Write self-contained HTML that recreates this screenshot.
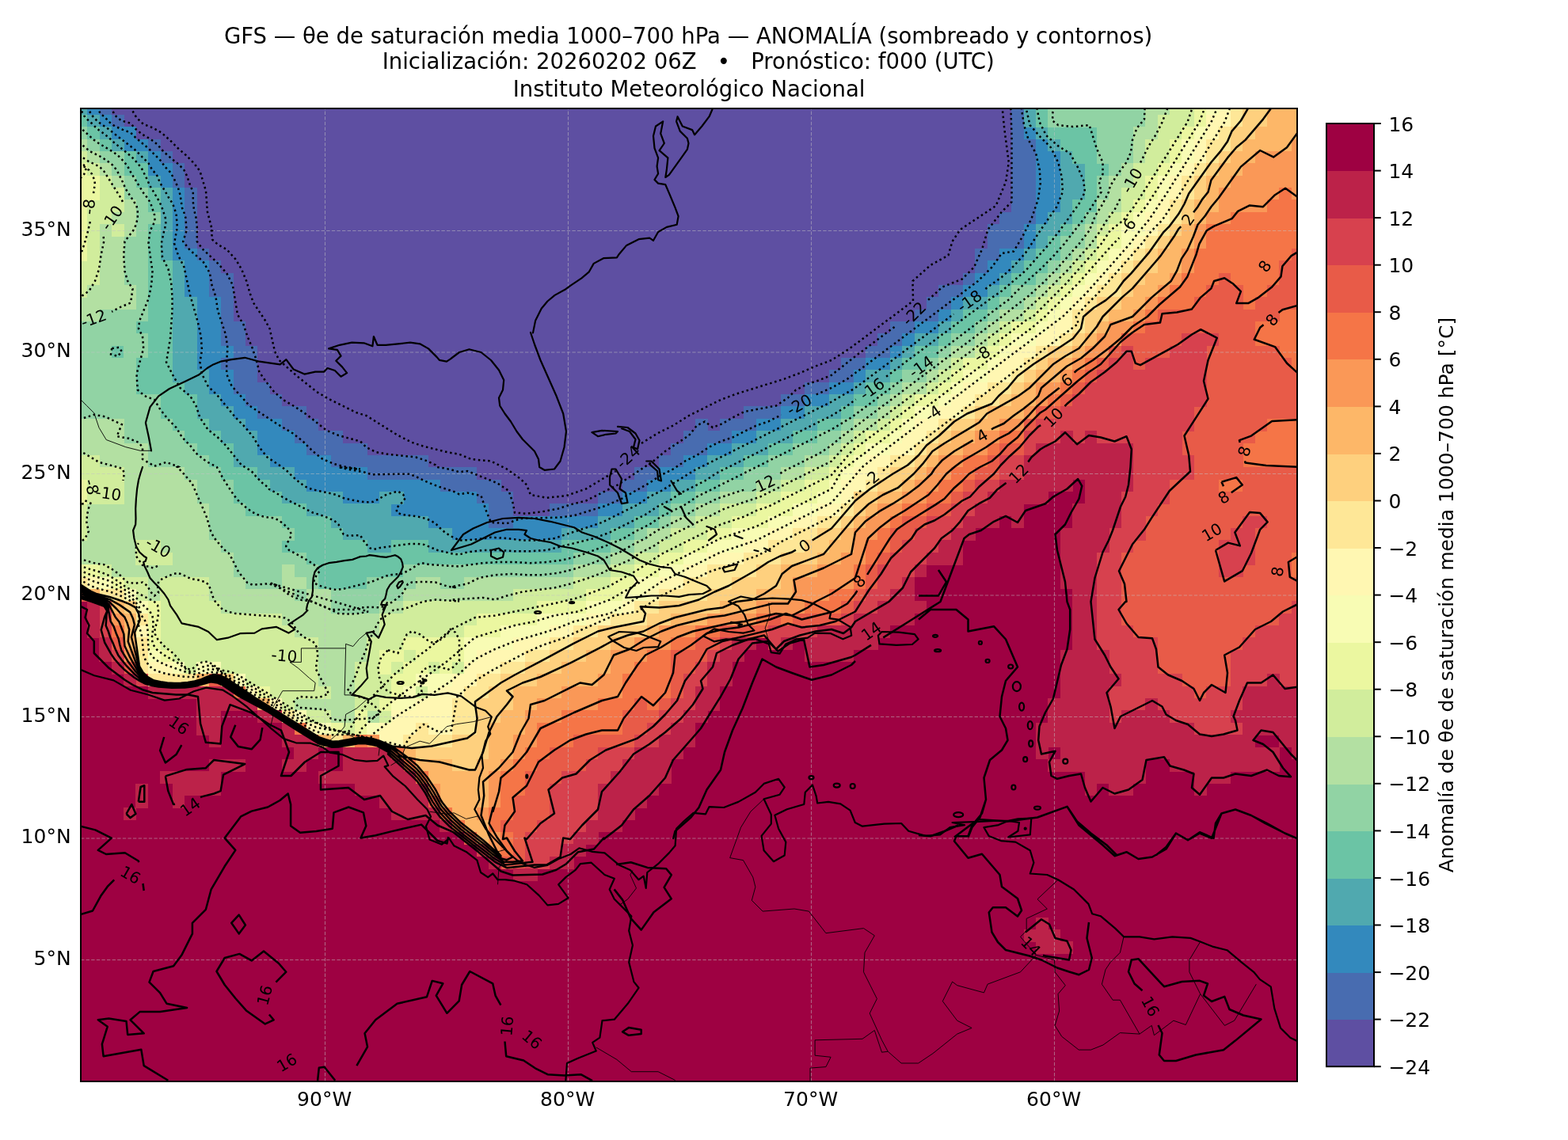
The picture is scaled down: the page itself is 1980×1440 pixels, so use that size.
<!DOCTYPE html>
<html lang="es"><head><meta charset="utf-8">
<title>GFS — θe de saturación media 1000–700 hPa — ANOMALÍA</title>
<style>html,body{margin:0;padding:0;background:#fff;}body{width:1980px;height:1440px;overflow:hidden;}svg{display:block;}text{font-family:'DejaVu Sans', 'Liberation Sans', sans-serif;fill:#000;}</style>
</head><body>
<svg width="1980" height="1440" viewBox="0 0 1980 1440">
<rect x="0" y="0" width="1980" height="1440" fill="#ffffff"/>
<defs><clipPath id="ax"><rect x="102" y="137" width="1536" height="1229"/></clipPath></defs>
<g clip-path="url(#ax)">
<rect x="102" y="137" width="1536" height="1229" fill="#9e0142"/>
<g shape-rendering="crispEdges">
<path fill="#5e4fa2" d="M140.7 137H1277.8V145.2H140.7Z"/>
<path fill="#5e4fa2" d="M156.1 144.8H1277.8V160.6H156.1Z"/>
<path fill="#5e4fa2" d="M171.4 160.2H1277.8V175.9H171.4Z"/>
<path fill="#5e4fa2" d="M202.2 175.5H1277.8V191.3H202.2Z"/>
<path fill="#5e4fa2" d="M217.5 190.9H1277.8V206.6H217.5Z"/>
<path fill="#5e4fa2" d="M232.9 206.2H1277.8V237.4H232.9Z"/>
<path fill="#5e4fa2" d="M248.2 237H1277.8V268.1H248.2Z"/>
<path fill="#5e4fa2" d="M248.2 267.7H1262.4V283.4H248.2Z"/>
<path fill="#5e4fa2" d="M248.2 283H1247V314.2H248.2Z"/>
<path fill="#5e4fa2" d="M263.6 313.8H1231.7V329.5H263.6Z"/>
<path fill="#5e4fa2" d="M279 329.1H1231.7V344.9H279Z"/>
<path fill="#5e4fa2" d="M294.3 344.5H1216.3V360.2H294.3Z"/>
<path fill="#5e4fa2" d="M294.3 359.8H1185.6V375.6H294.3Z"/>
<path fill="#5e4fa2" d="M294.3 375.2H1170.2V391H294.3Z"/>
<path fill="#5e4fa2" d="M294.3 390.6H1154.9V406.3H294.3Z"/>
<path fill="#5e4fa2" d="M309.7 405.9H1124.2V421.7H309.7Z"/>
<path fill="#5e4fa2" d="M309.7 421.3H1108.8V437H309.7Z"/>
<path fill="#5e4fa2" d="M325 436.6H1093.4V452.4H325Z"/>
<path fill="#5e4fa2" d="M325 452H1062.7V467.8H325Z"/>
<path fill="#5e4fa2" d="M325 467.4H1047.4V483.1H325Z"/>
<path fill="#5e4fa2" d="M340.4 482.7H1016.6V498.5H340.4Z"/>
<path fill="#5e4fa2" d="M355.8 498.1H985.9V513.8H355.8Z"/>
<path fill="#5e4fa2" d="M386.5 513.4H939.8V529.2H386.5Z"/>
<path fill="#5e4fa2" d="M401.8 528.8H878.4V544.6H401.8Z"/>
<path fill="#5e4fa2" d="M893.4 528.8H909.1V544.6H893.4Z"/>
<path fill="#5e4fa2" d="M432.6 544.2H863V559.9H432.6Z"/>
<path fill="#5e4fa2" d="M463.3 559.5H847.7V575.3H463.3Z"/>
<path fill="#5e4fa2" d="M540.1 574.9H832.3V590.6H540.1Z"/>
<path fill="#5e4fa2" d="M601.5 590.2H801.6V606H601.5Z"/>
<path fill="#5e4fa2" d="M632.2 605.6H786.2V621.4H632.2Z"/>
<path fill="#5e4fa2" d="M647.6 621H755.5V636.7H647.6Z"/>
<path fill="#5e4fa2" d="M647.6 636.3H694.1V652.1H647.6Z"/>
<path fill="#486cb0" d="M125.4 137H141.1V145.2H125.4Z"/>
<path fill="#486cb0" d="M1277.4 137H1293.1V175.9H1277.4Z"/>
<path fill="#486cb0" d="M140.7 144.8H156.5V160.6H140.7Z"/>
<path fill="#486cb0" d="M186.8 175.5H202.6V191.3H186.8Z"/>
<path fill="#486cb0" d="M1277.4 175.5H1308.5V268.1H1277.4Z"/>
<path fill="#486cb0" d="M202.2 190.9H217.9V206.6H202.2Z"/>
<path fill="#486cb0" d="M217.5 206.2H233.3V237.4H217.5Z"/>
<path fill="#486cb0" d="M232.9 237H248.6V314.2H232.9Z"/>
<path fill="#486cb0" d="M1262 267.7H1308.5V283.4H1262Z"/>
<path fill="#486cb0" d="M1246.6 283H1293.1V314.2H1246.6Z"/>
<path fill="#486cb0" d="M248.2 313.8H264V329.5H248.2Z"/>
<path fill="#486cb0" d="M1231.3 313.8H1262.4V329.5H1231.3Z"/>
<path fill="#486cb0" d="M263.6 329.1H279.4V344.9H263.6Z"/>
<path fill="#486cb0" d="M1231.3 329.1H1247V344.9H1231.3Z"/>
<path fill="#486cb0" d="M263.6 344.5H294.7V375.6H263.6Z"/>
<path fill="#486cb0" d="M1215.9 344.5H1231.7V360.2H1215.9Z"/>
<path fill="#486cb0" d="M1185.2 359.8H1216.3V375.6H1185.2Z"/>
<path fill="#486cb0" d="M279 375.2H294.7V406.3H279Z"/>
<path fill="#486cb0" d="M1169.8 375.2H1201V391H1169.8Z"/>
<path fill="#486cb0" d="M1154.5 390.6H1185.6V406.3H1154.5Z"/>
<path fill="#486cb0" d="M279 405.9H310.1V437H279Z"/>
<path fill="#486cb0" d="M1123.8 405.9H1154.9V421.7H1123.8Z"/>
<path fill="#486cb0" d="M1108.4 421.3H1139.5V437H1108.4Z"/>
<path fill="#486cb0" d="M294.3 436.6H325.4V452.4H294.3Z"/>
<path fill="#486cb0" d="M294.3 467.4H325.4V483.1H294.3Z"/>
<path fill="#486cb0" d="M1093 436.6H1124.2V452.4H1093Z"/>
<path fill="#486cb0" d="M279 452H325.4V467.8H279Z"/>
<path fill="#486cb0" d="M1062.3 452H1093.4V467.8H1062.3Z"/>
<path fill="#486cb0" d="M1047 467.4H1078.1V483.1H1047Z"/>
<path fill="#486cb0" d="M294.3 482.7H340.8V498.5H294.3Z"/>
<path fill="#486cb0" d="M1016.2 482.7H1047.4V498.5H1016.2Z"/>
<path fill="#486cb0" d="M309.7 498.1H356.2V513.8H309.7Z"/>
<path fill="#486cb0" d="M985.5 498.1H1016.6V513.8H985.5Z"/>
<path fill="#486cb0" d="M325 513.4H386.9V529.2H325Z"/>
<path fill="#486cb0" d="M939.4 513.4H985.9V529.2H939.4Z"/>
<path fill="#486cb0" d="M355.8 528.8H402.2V544.6H355.8Z"/>
<path fill="#486cb0" d="M878 528.8H893.8V544.6H878Z"/>
<path fill="#486cb0" d="M908.7 528.8H955.2V544.6H908.7Z"/>
<path fill="#486cb0" d="M371.1 544.2H433V559.9H371.1Z"/>
<path fill="#486cb0" d="M862.6 544.2H924.5V559.9H862.6Z"/>
<path fill="#486cb0" d="M386.5 559.5H463.7V575.3H386.5Z"/>
<path fill="#486cb0" d="M847.3 559.5H893.8V575.3H847.3Z"/>
<path fill="#486cb0" d="M417.2 574.9H540.5V590.6H417.2Z"/>
<path fill="#486cb0" d="M831.9 574.9H863V590.6H831.9Z"/>
<path fill="#486cb0" d="M463.3 590.2H601.9V606H463.3Z"/>
<path fill="#486cb0" d="M801.2 590.2H832.3V606H801.2Z"/>
<path fill="#486cb0" d="M555.4 605.6H632.6V621.4H555.4Z"/>
<path fill="#486cb0" d="M785.8 605.6H817V621.4H785.8Z"/>
<path fill="#486cb0" d="M601.5 621H648V636.7H601.5Z"/>
<path fill="#486cb0" d="M755.1 621H786.2V636.7H755.1Z"/>
<path fill="#486cb0" d="M616.9 636.3H648V667.4H616.9Z"/>
<path fill="#486cb0" d="M693.7 636.3H755.5V652.1H693.7Z"/>
<path fill="#3389bd" d="M110 137H125.8V145.2H110Z"/>
<path fill="#3389bd" d="M125.4 144.8H141.1V160.6H125.4Z"/>
<path fill="#3389bd" d="M140.7 160.2H171.8V175.9H140.7Z"/>
<path fill="#3389bd" d="M1292.7 160.2H1308.5V175.9H1292.7Z"/>
<path fill="#3389bd" d="M1292.7 283H1308.5V314.2H1292.7Z"/>
<path fill="#3389bd" d="M156.1 175.5H187.2V191.3H156.1Z"/>
<path fill="#3389bd" d="M1308.1 175.5H1323.8V191.3H1308.1Z"/>
<path fill="#3389bd" d="M1308.1 267.7H1323.8V283.4H1308.1Z"/>
<path fill="#3389bd" d="M186.8 190.9H202.6V206.6H186.8Z"/>
<path fill="#3389bd" d="M1308.1 190.9H1339.2V268.1H1308.1Z"/>
<path fill="#3389bd" d="M186.8 206.2H217.9V222H186.8Z"/>
<path fill="#3389bd" d="M202.2 221.6H217.9V237.4H202.2Z"/>
<path fill="#3389bd" d="M217.5 237H233.3V314.2H217.5Z"/>
<path fill="#3389bd" d="M217.5 313.8H248.6V329.5H217.5Z"/>
<path fill="#3389bd" d="M1262 313.8H1293.1V329.5H1262Z"/>
<path fill="#3389bd" d="M232.9 329.1H264V375.6H232.9Z"/>
<path fill="#3389bd" d="M1246.6 329.1H1277.8V344.9H1246.6Z"/>
<path fill="#3389bd" d="M1231.3 344.5H1262.4V360.2H1231.3Z"/>
<path fill="#3389bd" d="M1215.9 359.8H1247V375.6H1215.9Z"/>
<path fill="#3389bd" d="M248.2 375.2H279.4V437H248.2Z"/>
<path fill="#3389bd" d="M248.2 452H279.4V467.8H248.2Z"/>
<path fill="#3389bd" d="M1200.6 375.2H1216.3V391H1200.6Z"/>
<path fill="#3389bd" d="M1185.2 390.6H1201V406.3H1185.2Z"/>
<path fill="#3389bd" d="M1154.5 405.9H1185.6V421.7H1154.5Z"/>
<path fill="#3389bd" d="M1139.1 421.3H1154.9V437H1139.1Z"/>
<path fill="#3389bd" d="M248.2 436.6H294.7V452.4H248.2Z"/>
<path fill="#3389bd" d="M1123.8 436.6H1139.5V452.4H1123.8Z"/>
<path fill="#3389bd" d="M1093 452H1124.2V467.8H1093Z"/>
<path fill="#3389bd" d="M263.6 467.4H294.7V498.5H263.6Z"/>
<path fill="#3389bd" d="M1077.7 467.4H1093.4V483.1H1077.7Z"/>
<path fill="#3389bd" d="M1047 482.7H1078.1V498.5H1047Z"/>
<path fill="#3389bd" d="M279 498.1H310.1V513.8H279Z"/>
<path fill="#3389bd" d="M1016.2 498.1H1047.4V513.8H1016.2Z"/>
<path fill="#3389bd" d="M294.3 513.4H325.4V529.2H294.3Z"/>
<path fill="#3389bd" d="M985.5 513.4H1016.6V529.2H985.5Z"/>
<path fill="#3389bd" d="M309.7 528.8H356.2V544.6H309.7Z"/>
<path fill="#3389bd" d="M954.8 528.8H985.9V544.6H954.8Z"/>
<path fill="#3389bd" d="M325 544.2H371.5V559.9H325Z"/>
<path fill="#3389bd" d="M924.1 544.2H955.2V559.9H924.1Z"/>
<path fill="#3389bd" d="M325 559.5H386.9V575.3H325Z"/>
<path fill="#3389bd" d="M893.4 559.5H924.5V575.3H893.4Z"/>
<path fill="#3389bd" d="M340.4 574.9H417.6V590.6H340.4Z"/>
<path fill="#3389bd" d="M862.6 574.9H893.8V590.6H862.6Z"/>
<path fill="#3389bd" d="M371.1 590.2H463.7V606H371.1Z"/>
<path fill="#3389bd" d="M831.9 590.2H878.4V606H831.9Z"/>
<path fill="#3389bd" d="M386.5 605.6H555.8V621.4H386.5Z"/>
<path fill="#3389bd" d="M816.6 605.6H847.7V621.4H816.6Z"/>
<path fill="#3389bd" d="M432.6 621H479V636.7H432.6Z"/>
<path fill="#3389bd" d="M509.4 621H601.9V636.7H509.4Z"/>
<path fill="#3389bd" d="M785.8 621H817V636.7H785.8Z"/>
<path fill="#3389bd" d="M494 636.3H617.3V652.1H494Z"/>
<path fill="#3389bd" d="M755.1 636.3H786.2V652.1H755.1Z"/>
<path fill="#3389bd" d="M540.1 651.7H617.3V667.4H540.1Z"/>
<path fill="#3389bd" d="M647.6 651.7H755.5V667.4H647.6Z"/>
<path fill="#3389bd" d="M570.8 667H709.4V682.8H570.8Z"/>
<path fill="#50a9af" d="M102 137H110.4V145.2H102Z"/>
<path fill="#50a9af" d="M1292.7 137H1308.5V160.6H1292.7Z"/>
<path fill="#50a9af" d="M1292.7 313.8H1308.5V329.5H1292.7Z"/>
<path fill="#50a9af" d="M110 144.8H125.8V160.6H110Z"/>
<path fill="#50a9af" d="M125.4 160.2H141.1V175.9H125.4Z"/>
<path fill="#50a9af" d="M1308.1 160.2H1323.8V175.9H1308.1Z"/>
<path fill="#50a9af" d="M1308.1 298.4H1323.8V314.2H1308.1Z"/>
<path fill="#50a9af" d="M140.7 175.5H156.5V191.3H140.7Z"/>
<path fill="#50a9af" d="M1323.4 175.5H1339.2V191.3H1323.4Z"/>
<path fill="#50a9af" d="M171.4 190.9H187.2V206.6H171.4Z"/>
<path fill="#50a9af" d="M1338.8 190.9H1354.6V206.6H1338.8Z"/>
<path fill="#50a9af" d="M1338.8 252.3H1354.6V268.1H1338.8Z"/>
<path fill="#50a9af" d="M1338.8 206.2H1369.9V252.7H1338.8Z"/>
<path fill="#50a9af" d="M186.8 221.6H202.6V237.4H186.8Z"/>
<path fill="#50a9af" d="M202.2 237H217.9V329.5H202.2Z"/>
<path fill="#50a9af" d="M1323.4 267.7H1354.6V283.4H1323.4Z"/>
<path fill="#50a9af" d="M1308.1 283H1339.2V298.8H1308.1Z"/>
<path fill="#50a9af" d="M217.5 329.1H233.3V375.6H217.5Z"/>
<path fill="#50a9af" d="M1277.4 329.1H1293.1V344.9H1277.4Z"/>
<path fill="#50a9af" d="M1262 344.5H1277.8V360.2H1262Z"/>
<path fill="#50a9af" d="M1246.6 359.8H1262.4V375.6H1246.6Z"/>
<path fill="#50a9af" d="M217.5 375.2H248.6V467.8H217.5Z"/>
<path fill="#50a9af" d="M1215.9 375.2H1247V391H1215.9Z"/>
<path fill="#50a9af" d="M1200.6 390.6H1216.3V406.3H1200.6Z"/>
<path fill="#50a9af" d="M1185.2 405.9H1201V421.7H1185.2Z"/>
<path fill="#50a9af" d="M1154.5 421.3H1185.6V437H1154.5Z"/>
<path fill="#50a9af" d="M1139.1 436.6H1154.9V452.4H1139.1Z"/>
<path fill="#50a9af" d="M1123.8 452H1139.5V467.8H1123.8Z"/>
<path fill="#50a9af" d="M217.5 467.4H264V483.1H217.5Z"/>
<path fill="#50a9af" d="M1093 467.4H1124.2V483.1H1093Z"/>
<path fill="#50a9af" d="M232.9 482.7H264V498.5H232.9Z"/>
<path fill="#50a9af" d="M1077.7 482.7H1093.4V498.5H1077.7Z"/>
<path fill="#50a9af" d="M248.2 498.1H279.4V513.8H248.2Z"/>
<path fill="#50a9af" d="M1047 498.1H1078.1V513.8H1047Z"/>
<path fill="#50a9af" d="M248.2 513.4H294.7V529.2H248.2Z"/>
<path fill="#50a9af" d="M1016.2 513.4H1062.7V529.2H1016.2Z"/>
<path fill="#50a9af" d="M263.6 528.8H310.1V544.6H263.6Z"/>
<path fill="#50a9af" d="M985.5 528.8H1032V544.6H985.5Z"/>
<path fill="#50a9af" d="M279 544.2H325.4V559.9H279Z"/>
<path fill="#50a9af" d="M954.8 544.2H1001.3V559.9H954.8Z"/>
<path fill="#50a9af" d="M294.3 559.5H325.4V575.3H294.3Z"/>
<path fill="#50a9af" d="M924.1 559.5H970.6V575.3H924.1Z"/>
<path fill="#50a9af" d="M294.3 574.9H340.8V590.6H294.3Z"/>
<path fill="#50a9af" d="M893.4 574.9H939.8V590.6H893.4Z"/>
<path fill="#50a9af" d="M325 590.2H371.5V606H325Z"/>
<path fill="#50a9af" d="M878 590.2H909.1V606H878Z"/>
<path fill="#50a9af" d="M340.4 605.6H386.9V621.4H340.4Z"/>
<path fill="#50a9af" d="M847.3 605.6H878.4V621.4H847.3Z"/>
<path fill="#50a9af" d="M355.8 621H433V636.7H355.8Z"/>
<path fill="#50a9af" d="M478.6 621H509.8V636.7H478.6Z"/>
<path fill="#50a9af" d="M816.6 621H847.7V636.7H816.6Z"/>
<path fill="#50a9af" d="M386.5 636.3H494.4V652.1H386.5Z"/>
<path fill="#50a9af" d="M785.8 636.3H832.3V652.1H785.8Z"/>
<path fill="#50a9af" d="M417.2 651.7H540.5V667.4H417.2Z"/>
<path fill="#50a9af" d="M755.1 651.7H801.6V667.4H755.1Z"/>
<path fill="#50a9af" d="M432.6 667H571.2V682.8H432.6Z"/>
<path fill="#50a9af" d="M709 667H770.9V682.8H709Z"/>
<path fill="#50a9af" d="M463.3 682.4H494.4V698.2H463.3Z"/>
<path fill="#50a9af" d="M540.1 682.4H709.4V698.2H540.1Z"/>
<path fill="#6bc4a5" d="M1308.1 137H1323.8V160.6H1308.1Z"/>
<path fill="#6bc4a5" d="M102 144.8H110.4V160.6H102Z"/>
<path fill="#6bc4a5" d="M110 160.2H125.8V175.9H110Z"/>
<path fill="#6bc4a5" d="M1323.4 160.2H1385.3V175.9H1323.4Z"/>
<path fill="#6bc4a5" d="M125.4 175.5H141.1V191.3H125.4Z"/>
<path fill="#6bc4a5" d="M1338.8 175.5H1385.3V191.3H1338.8Z"/>
<path fill="#6bc4a5" d="M156.1 190.9H171.8V206.6H156.1Z"/>
<path fill="#6bc4a5" d="M1354.2 190.9H1385.3V206.6H1354.2Z"/>
<path fill="#6bc4a5" d="M1354.2 252.3H1385.3V268.1H1354.2Z"/>
<path fill="#6bc4a5" d="M156.1 206.2H187.2V222H156.1Z"/>
<path fill="#6bc4a5" d="M1369.5 206.2H1400.6V222H1369.5Z"/>
<path fill="#6bc4a5" d="M171.4 221.6H187.2V237.4H171.4Z"/>
<path fill="#6bc4a5" d="M1369.5 221.6H1385.3V252.7H1369.5Z"/>
<path fill="#6bc4a5" d="M186.8 237H202.6V268.1H186.8Z"/>
<path fill="#6bc4a5" d="M186.8 283H202.6V329.5H186.8Z"/>
<path fill="#6bc4a5" d="M1354.2 267.7H1369.9V283.4H1354.2Z"/>
<path fill="#6bc4a5" d="M1338.8 283H1354.6V298.8H1338.8Z"/>
<path fill="#6bc4a5" d="M1323.4 298.4H1339.2V314.2H1323.4Z"/>
<path fill="#6bc4a5" d="M1308.1 313.8H1339.2V329.5H1308.1Z"/>
<path fill="#6bc4a5" d="M186.8 329.1H217.9V406.3H186.8Z"/>
<path fill="#6bc4a5" d="M186.8 421.3H217.9V452.4H186.8Z"/>
<path fill="#6bc4a5" d="M1292.7 329.1H1323.8V344.9H1292.7Z"/>
<path fill="#6bc4a5" d="M1277.4 344.5H1308.5V360.2H1277.4Z"/>
<path fill="#6bc4a5" d="M1262 359.8H1277.8V375.6H1262Z"/>
<path fill="#6bc4a5" d="M1246.6 375.2H1262.4V391H1246.6Z"/>
<path fill="#6bc4a5" d="M1215.9 390.6H1247V406.3H1215.9Z"/>
<path fill="#6bc4a5" d="M171.4 405.9H217.9V421.7H171.4Z"/>
<path fill="#6bc4a5" d="M171.4 452H217.9V483.1H171.4Z"/>
<path fill="#6bc4a5" d="M1200.6 405.9H1231.7V421.7H1200.6Z"/>
<path fill="#6bc4a5" d="M1185.2 421.3H1201V437H1185.2Z"/>
<path fill="#6bc4a5" d="M140.7 436.6H156.5V452.4H140.7Z"/>
<path fill="#6bc4a5" d="M1154.5 436.6H1185.6V452.4H1154.5Z"/>
<path fill="#6bc4a5" d="M1139.1 452H1170.2V467.8H1139.1Z"/>
<path fill="#6bc4a5" d="M1123.8 467.4H1139.5V483.1H1123.8Z"/>
<path fill="#6bc4a5" d="M171.4 482.7H233.3V498.5H171.4Z"/>
<path fill="#6bc4a5" d="M1093 482.7H1124.2V498.5H1093Z"/>
<path fill="#6bc4a5" d="M202.2 498.1H248.6V529.2H202.2Z"/>
<path fill="#6bc4a5" d="M1077.7 498.1H1108.8V513.8H1077.7Z"/>
<path fill="#6bc4a5" d="M1062.3 513.4H1078.1V529.2H1062.3Z"/>
<path fill="#6bc4a5" d="M217.5 528.8H264V544.6H217.5Z"/>
<path fill="#6bc4a5" d="M1031.6 528.8H1062.7V544.6H1031.6Z"/>
<path fill="#6bc4a5" d="M232.9 544.2H279.4V559.9H232.9Z"/>
<path fill="#6bc4a5" d="M1000.9 544.2H1032V559.9H1000.9Z"/>
<path fill="#6bc4a5" d="M248.2 559.5H294.7V575.3H248.2Z"/>
<path fill="#6bc4a5" d="M970.2 559.5H1001.3V575.3H970.2Z"/>
<path fill="#6bc4a5" d="M263.6 574.9H294.7V590.6H263.6Z"/>
<path fill="#6bc4a5" d="M939.4 574.9H970.6V590.6H939.4Z"/>
<path fill="#6bc4a5" d="M279 590.2H325.4V606H279Z"/>
<path fill="#6bc4a5" d="M908.7 590.2H939.8V606H908.7Z"/>
<path fill="#6bc4a5" d="M294.3 605.6H340.8V621.4H294.3Z"/>
<path fill="#6bc4a5" d="M878 605.6H909.1V621.4H878Z"/>
<path fill="#6bc4a5" d="M294.3 621H356.2V636.7H294.3Z"/>
<path fill="#6bc4a5" d="M847.3 621H878.4V636.7H847.3Z"/>
<path fill="#6bc4a5" d="M309.7 636.3H386.9V652.1H309.7Z"/>
<path fill="#6bc4a5" d="M831.9 636.3H847.7V652.1H831.9Z"/>
<path fill="#6bc4a5" d="M355.8 651.7H417.6V667.4H355.8Z"/>
<path fill="#6bc4a5" d="M801.2 651.7H832.3V667.4H801.2Z"/>
<path fill="#6bc4a5" d="M371.1 667H433V682.8H371.1Z"/>
<path fill="#6bc4a5" d="M770.5 667H801.6V682.8H770.5Z"/>
<path fill="#6bc4a5" d="M355.8 682.4H463.7V698.2H355.8Z"/>
<path fill="#6bc4a5" d="M494 682.4H540.5V698.2H494Z"/>
<path fill="#6bc4a5" d="M709 682.4H770.9V698.2H709Z"/>
<path fill="#6bc4a5" d="M386.5 697.8H724.8V713.5H386.5Z"/>
<path fill="#6bc4a5" d="M401.8 713.1H509.8V728.9H401.8Z"/>
<path fill="#6bc4a5" d="M401.8 728.5H463.7V744.2H401.8Z"/>
<path fill="#91d3a4" d="M1323.4 137H1446.7V160.6H1323.4Z"/>
<path fill="#91d3a4" d="M102 160.2H110.4V175.9H102Z"/>
<path fill="#91d3a4" d="M1384.9 160.2H1431.4V206.6H1384.9Z"/>
<path fill="#91d3a4" d="M110 175.5H125.8V191.3H110Z"/>
<path fill="#91d3a4" d="M125.4 190.9H156.5V206.6H125.4Z"/>
<path fill="#91d3a4" d="M140.7 206.2H156.5V222H140.7Z"/>
<path fill="#91d3a4" d="M1400.2 206.2H1416V222H1400.2Z"/>
<path fill="#91d3a4" d="M156.1 221.6H171.8V237.4H156.1Z"/>
<path fill="#91d3a4" d="M1384.9 221.6H1400.6V252.7H1384.9Z"/>
<path fill="#91d3a4" d="M156.1 237H187.2V252.7H156.1Z"/>
<path fill="#91d3a4" d="M156.1 298.4H187.2V360.2H156.1Z"/>
<path fill="#91d3a4" d="M156.1 436.6H187.2V452.4H156.1Z"/>
<path fill="#91d3a4" d="M171.4 252.3H187.2V268.1H171.4Z"/>
<path fill="#91d3a4" d="M171.4 283H187.2V298.8H171.4Z"/>
<path fill="#91d3a4" d="M171.4 359.8H187.2V391H171.4Z"/>
<path fill="#91d3a4" d="M171.4 267.7H202.6V283.4H171.4Z"/>
<path fill="#91d3a4" d="M1369.5 267.7H1385.3V283.4H1369.5Z"/>
<path fill="#91d3a4" d="M1354.2 283H1369.9V298.8H1354.2Z"/>
<path fill="#91d3a4" d="M1338.8 298.4H1369.9V314.2H1338.8Z"/>
<path fill="#91d3a4" d="M1338.8 313.8H1354.6V329.5H1338.8Z"/>
<path fill="#91d3a4" d="M1323.4 329.1H1339.2V344.9H1323.4Z"/>
<path fill="#91d3a4" d="M1308.1 344.5H1323.8V360.2H1308.1Z"/>
<path fill="#91d3a4" d="M1277.4 359.8H1308.5V375.6H1277.4Z"/>
<path fill="#91d3a4" d="M1262 375.2H1293.1V391H1262Z"/>
<path fill="#91d3a4" d="M125.4 390.6H187.2V406.3H125.4Z"/>
<path fill="#91d3a4" d="M1246.6 390.6H1262.4V406.3H1246.6Z"/>
<path fill="#91d3a4" d="M102 405.9H171.8V421.7H102Z"/>
<path fill="#91d3a4" d="M102 452H171.8V498.5H102Z"/>
<path fill="#91d3a4" d="M1231.3 405.9H1247V421.7H1231.3Z"/>
<path fill="#91d3a4" d="M102 421.3H187.2V437H102Z"/>
<path fill="#91d3a4" d="M1200.6 421.3H1231.7V437H1200.6Z"/>
<path fill="#91d3a4" d="M102 436.6H141.1V452.4H102Z"/>
<path fill="#91d3a4" d="M1185.2 436.6H1201V452.4H1185.2Z"/>
<path fill="#91d3a4" d="M1169.8 452H1185.6V467.8H1169.8Z"/>
<path fill="#91d3a4" d="M1139.1 467.4H1170.2V483.1H1139.1Z"/>
<path fill="#91d3a4" d="M1123.8 482.7H1139.5V498.5H1123.8Z"/>
<path fill="#91d3a4" d="M102 498.1H202.6V529.2H102Z"/>
<path fill="#91d3a4" d="M1108.4 498.1H1124.2V513.8H1108.4Z"/>
<path fill="#91d3a4" d="M1077.7 513.4H1108.8V529.2H1077.7Z"/>
<path fill="#91d3a4" d="M156.1 528.8H217.9V544.6H156.1Z"/>
<path fill="#91d3a4" d="M1062.3 528.8H1078.1V544.6H1062.3Z"/>
<path fill="#91d3a4" d="M156.1 544.2H233.3V559.9H156.1Z"/>
<path fill="#91d3a4" d="M1031.6 544.2H1062.7V559.9H1031.6Z"/>
<path fill="#91d3a4" d="M186.8 559.5H248.6V575.3H186.8Z"/>
<path fill="#91d3a4" d="M1000.9 559.5H1047.4V575.3H1000.9Z"/>
<path fill="#91d3a4" d="M186.8 574.9H264V590.6H186.8Z"/>
<path fill="#91d3a4" d="M970.2 574.9H1016.6V590.6H970.2Z"/>
<path fill="#91d3a4" d="M232.9 590.2H279.4V606H232.9Z"/>
<path fill="#91d3a4" d="M939.4 590.2H985.9V606H939.4Z"/>
<path fill="#91d3a4" d="M248.2 605.6H294.7V636.7H248.2Z"/>
<path fill="#91d3a4" d="M908.7 605.6H955.2V621.4H908.7Z"/>
<path fill="#91d3a4" d="M878 621H909.1V636.7H878Z"/>
<path fill="#91d3a4" d="M263.6 636.3H310.1V652.1H263.6Z"/>
<path fill="#91d3a4" d="M847.3 636.3H878.4V652.1H847.3Z"/>
<path fill="#91d3a4" d="M263.6 651.7H356.2V667.4H263.6Z"/>
<path fill="#91d3a4" d="M831.9 651.7H847.7V667.4H831.9Z"/>
<path fill="#91d3a4" d="M263.6 667H371.5V682.8H263.6Z"/>
<path fill="#91d3a4" d="M801.2 667H817V682.8H801.2Z"/>
<path fill="#91d3a4" d="M279 682.4H356.2V698.2H279Z"/>
<path fill="#91d3a4" d="M770.5 682.4H801.6V698.2H770.5Z"/>
<path fill="#91d3a4" d="M294.3 697.8H386.9V713.5H294.3Z"/>
<path fill="#91d3a4" d="M724.4 697.8H770.9V713.5H724.4Z"/>
<path fill="#91d3a4" d="M294.3 713.1H356.2V728.9H294.3Z"/>
<path fill="#91d3a4" d="M371.1 713.1H402.2V728.9H371.1Z"/>
<path fill="#91d3a4" d="M509.4 713.1H724.8V728.9H509.4Z"/>
<path fill="#91d3a4" d="M309.7 728.5H356.2V744.2H309.7Z"/>
<path fill="#91d3a4" d="M386.5 728.5H402.2V744.2H386.5Z"/>
<path fill="#91d3a4" d="M463.3 728.5H525.1V744.2H463.3Z"/>
<path fill="#91d3a4" d="M555.4 728.5H586.6V744.2H555.4Z"/>
<path fill="#91d3a4" d="M371.1 743.8H386.9V759.6H371.1Z"/>
<path fill="#91d3a4" d="M417.2 743.8H509.8V759.6H417.2Z"/>
<path fill="#91d3a4" d="M417.2 759.2H479V775H417.2Z"/>
<path fill="#b3e0a2" d="M1446.3 137H1477.4V145.2H1446.3Z"/>
<path fill="#b3e0a2" d="M1446.3 144.8H1462.1V160.6H1446.3Z"/>
<path fill="#b3e0a2" d="M1431 160.2H1462.1V175.9H1431Z"/>
<path fill="#b3e0a2" d="M102 175.5H110.4V191.3H102Z"/>
<path fill="#b3e0a2" d="M1431 175.5H1446.7V206.6H1431Z"/>
<path fill="#b3e0a2" d="M110 190.9H125.8V206.6H110Z"/>
<path fill="#b3e0a2" d="M125.4 206.2H141.1V222H125.4Z"/>
<path fill="#b3e0a2" d="M125.4 283H141.1V298.8H125.4Z"/>
<path fill="#b3e0a2" d="M1415.6 206.2H1431.4V222H1415.6Z"/>
<path fill="#b3e0a2" d="M140.7 221.6H156.5V237.4H140.7Z"/>
<path fill="#b3e0a2" d="M1400.2 221.6H1431.4V237.4H1400.2Z"/>
<path fill="#b3e0a2" d="M1400.2 237H1416V252.7H1400.2Z"/>
<path fill="#b3e0a2" d="M156.1 252.3H171.8V268.1H156.1Z"/>
<path fill="#b3e0a2" d="M156.1 283H171.8V298.8H156.1Z"/>
<path fill="#b3e0a2" d="M1384.9 252.3H1416V268.1H1384.9Z"/>
<path fill="#b3e0a2" d="M140.7 267.7H171.8V283.4H140.7Z"/>
<path fill="#b3e0a2" d="M1384.9 267.7H1400.6V283.4H1384.9Z"/>
<path fill="#b3e0a2" d="M1369.5 283H1385.3V314.2H1369.5Z"/>
<path fill="#b3e0a2" d="M125.4 298.4H156.5V360.2H125.4Z"/>
<path fill="#b3e0a2" d="M1354.2 313.8H1369.9V329.5H1354.2Z"/>
<path fill="#b3e0a2" d="M1338.8 329.1H1354.6V344.9H1338.8Z"/>
<path fill="#b3e0a2" d="M1323.4 344.5H1339.2V360.2H1323.4Z"/>
<path fill="#b3e0a2" d="M110 359.8H171.8V375.6H110Z"/>
<path fill="#b3e0a2" d="M1308.1 359.8H1323.8V375.6H1308.1Z"/>
<path fill="#b3e0a2" d="M102 375.2H171.8V391H102Z"/>
<path fill="#b3e0a2" d="M102 682.4H171.8V713.5H102Z"/>
<path fill="#b3e0a2" d="M1292.7 375.2H1308.5V391H1292.7Z"/>
<path fill="#b3e0a2" d="M102 390.6H125.8V406.3H102Z"/>
<path fill="#b3e0a2" d="M1262 390.6H1293.1V406.3H1262Z"/>
<path fill="#b3e0a2" d="M1246.6 405.9H1262.4V421.7H1246.6Z"/>
<path fill="#b3e0a2" d="M1231.3 421.3H1247V437H1231.3Z"/>
<path fill="#b3e0a2" d="M1200.6 436.6H1231.7V452.4H1200.6Z"/>
<path fill="#b3e0a2" d="M1185.2 452H1201V467.8H1185.2Z"/>
<path fill="#b3e0a2" d="M1169.8 467.4H1185.6V483.1H1169.8Z"/>
<path fill="#b3e0a2" d="M1139.1 482.7H1170.2V498.5H1139.1Z"/>
<path fill="#b3e0a2" d="M1123.8 498.1H1139.5V513.8H1123.8Z"/>
<path fill="#b3e0a2" d="M1108.4 513.4H1124.2V529.2H1108.4Z"/>
<path fill="#b3e0a2" d="M102 528.8H156.5V559.9H102Z"/>
<path fill="#b3e0a2" d="M1077.7 528.8H1108.8V544.6H1077.7Z"/>
<path fill="#b3e0a2" d="M1062.3 544.2H1078.1V559.9H1062.3Z"/>
<path fill="#b3e0a2" d="M102 559.5H187.2V575.3H102Z"/>
<path fill="#b3e0a2" d="M1047 559.5H1062.7V575.3H1047Z"/>
<path fill="#b3e0a2" d="M125.4 574.9H187.2V590.6H125.4Z"/>
<path fill="#b3e0a2" d="M1016.2 574.9H1047.4V590.6H1016.2Z"/>
<path fill="#b3e0a2" d="M156.1 590.2H233.3V606H156.1Z"/>
<path fill="#b3e0a2" d="M985.5 590.2H1016.6V606H985.5Z"/>
<path fill="#b3e0a2" d="M156.1 605.6H248.6V636.7H156.1Z"/>
<path fill="#b3e0a2" d="M954.8 605.6H985.9V621.4H954.8Z"/>
<path fill="#b3e0a2" d="M908.7 621H955.2V636.7H908.7Z"/>
<path fill="#b3e0a2" d="M110 636.3H264V682.8H110Z"/>
<path fill="#b3e0a2" d="M878 636.3H909.1V652.1H878Z"/>
<path fill="#b3e0a2" d="M847.3 651.7H878.4V667.4H847.3Z"/>
<path fill="#b3e0a2" d="M816.6 667H847.7V682.8H816.6Z"/>
<path fill="#b3e0a2" d="M202.2 682.4H279.4V698.2H202.2Z"/>
<path fill="#b3e0a2" d="M801.2 682.4H832.3V698.2H801.2Z"/>
<path fill="#b3e0a2" d="M217.5 697.8H294.7V713.5H217.5Z"/>
<path fill="#b3e0a2" d="M770.5 697.8H801.6V713.5H770.5Z"/>
<path fill="#b3e0a2" d="M140.7 713.1H294.7V728.9H140.7Z"/>
<path fill="#b3e0a2" d="M355.8 713.1H371.5V728.9H355.8Z"/>
<path fill="#b3e0a2" d="M724.4 713.1H770.9V728.9H724.4Z"/>
<path fill="#b3e0a2" d="M186.8 728.5H202.6V759.6H186.8Z"/>
<path fill="#b3e0a2" d="M263.6 728.5H310.1V744.2H263.6Z"/>
<path fill="#b3e0a2" d="M355.8 728.5H386.9V744.2H355.8Z"/>
<path fill="#b3e0a2" d="M524.7 728.5H555.8V744.2H524.7Z"/>
<path fill="#b3e0a2" d="M586.2 728.5H724.8V744.2H586.2Z"/>
<path fill="#b3e0a2" d="M263.6 743.8H371.5V759.6H263.6Z"/>
<path fill="#b3e0a2" d="M386.5 743.8H417.6V759.6H386.5Z"/>
<path fill="#b3e0a2" d="M509.4 743.8H648V759.6H509.4Z"/>
<path fill="#b3e0a2" d="M279 759.2H417.6V775H279Z"/>
<path fill="#b3e0a2" d="M478.6 759.2H509.8V775H478.6Z"/>
<path fill="#b3e0a2" d="M355.8 774.6H479V790.3H355.8Z"/>
<path fill="#b3e0a2" d="M371.1 789.9H479V805.7H371.1Z"/>
<path fill="#b3e0a2" d="M401.8 805.3H463.7V836.4H401.8Z"/>
<path fill="#b3e0a2" d="M401.8 836H448.3V867.1H401.8Z"/>
<path fill="#b3e0a2" d="M417.2 866.7H448.3V882.5H417.2Z"/>
<path fill="#b3e0a2" d="M417.2 897.4H448.3V913.2H417.2Z"/>
<path fill="#b3e0a2" d="M371.1 882.1H448.3V897.8H371.1Z"/>
<path fill="#b3e0a2" d="M463.3 897.4H479V913.2H463.3Z"/>
<path fill="#d1ed9c" d="M1477 137H1508.2V145.2H1477Z"/>
<path fill="#d1ed9c" d="M1461.7 144.8H1508.2V160.6H1461.7Z"/>
<path fill="#d1ed9c" d="M1461.7 160.2H1492.8V175.9H1461.7Z"/>
<path fill="#d1ed9c" d="M1446.3 175.5H1477.4V206.6H1446.3Z"/>
<path fill="#d1ed9c" d="M102 190.9H110.4V206.6H102Z"/>
<path fill="#d1ed9c" d="M102 359.8H110.4V375.6H102Z"/>
<path fill="#d1ed9c" d="M102 636.3H110.4V682.8H102Z"/>
<path fill="#d1ed9c" d="M110 206.2H125.8V222H110Z"/>
<path fill="#d1ed9c" d="M110 283H125.8V329.5H110Z"/>
<path fill="#d1ed9c" d="M1431 206.2H1462.1V222H1431Z"/>
<path fill="#d1ed9c" d="M125.4 221.6H141.1V237.4H125.4Z"/>
<path fill="#d1ed9c" d="M125.4 713.1H141.1V728.9H125.4Z"/>
<path fill="#d1ed9c" d="M1431 221.6H1446.7V237.4H1431Z"/>
<path fill="#d1ed9c" d="M125.4 237H156.5V252.7H125.4Z"/>
<path fill="#d1ed9c" d="M1415.6 237H1446.7V252.7H1415.6Z"/>
<path fill="#d1ed9c" d="M110 252.3H156.5V268.1H110Z"/>
<path fill="#d1ed9c" d="M110 605.6H156.5V636.7H110Z"/>
<path fill="#d1ed9c" d="M1415.6 252.3H1431.4V268.1H1415.6Z"/>
<path fill="#d1ed9c" d="M110 267.7H141.1V283.4H110Z"/>
<path fill="#d1ed9c" d="M1400.2 267.7H1416V283.4H1400.2Z"/>
<path fill="#d1ed9c" d="M140.7 283H156.5V298.8H140.7Z"/>
<path fill="#d1ed9c" d="M1384.9 283H1400.6V298.8H1384.9Z"/>
<path fill="#d1ed9c" d="M1369.5 313.8H1385.3V329.5H1369.5Z"/>
<path fill="#d1ed9c" d="M102 329.1H125.8V360.2H102Z"/>
<path fill="#d1ed9c" d="M102 574.9H125.8V590.6H102Z"/>
<path fill="#d1ed9c" d="M1354.2 329.1H1369.9V344.9H1354.2Z"/>
<path fill="#d1ed9c" d="M1338.8 344.5H1354.6V360.2H1338.8Z"/>
<path fill="#d1ed9c" d="M1323.4 359.8H1339.2V375.6H1323.4Z"/>
<path fill="#d1ed9c" d="M1308.1 375.2H1323.8V391H1308.1Z"/>
<path fill="#d1ed9c" d="M1292.7 390.6H1308.5V406.3H1292.7Z"/>
<path fill="#d1ed9c" d="M1262 405.9H1277.8V421.7H1262Z"/>
<path fill="#d1ed9c" d="M1246.6 421.3H1262.4V437H1246.6Z"/>
<path fill="#d1ed9c" d="M1231.3 436.6H1247V452.4H1231.3Z"/>
<path fill="#d1ed9c" d="M1200.6 452H1216.3V467.8H1200.6Z"/>
<path fill="#d1ed9c" d="M1185.2 467.4H1201V483.1H1185.2Z"/>
<path fill="#d1ed9c" d="M1169.8 482.7H1185.6V498.5H1169.8Z"/>
<path fill="#d1ed9c" d="M1139.1 498.1H1154.9V513.8H1139.1Z"/>
<path fill="#d1ed9c" d="M1123.8 513.4H1139.5V529.2H1123.8Z"/>
<path fill="#d1ed9c" d="M1108.4 528.8H1124.2V544.6H1108.4Z"/>
<path fill="#d1ed9c" d="M1077.7 544.2H1093.4V559.9H1077.7Z"/>
<path fill="#d1ed9c" d="M1062.3 559.5H1078.1V575.3H1062.3Z"/>
<path fill="#d1ed9c" d="M1047 574.9H1062.7V590.6H1047Z"/>
<path fill="#d1ed9c" d="M102 590.2H156.5V606H102Z"/>
<path fill="#d1ed9c" d="M1016.2 590.2H1047.4V606H1016.2Z"/>
<path fill="#d1ed9c" d="M985.5 605.6H1016.6V621.4H985.5Z"/>
<path fill="#d1ed9c" d="M954.8 621H985.9V636.7H954.8Z"/>
<path fill="#d1ed9c" d="M908.7 636.3H955.2V652.1H908.7Z"/>
<path fill="#d1ed9c" d="M878 651.7H924.5V667.4H878Z"/>
<path fill="#d1ed9c" d="M847.3 667H893.8V682.8H847.3Z"/>
<path fill="#d1ed9c" d="M171.4 682.4H202.6V698.2H171.4Z"/>
<path fill="#d1ed9c" d="M831.9 682.4H863V698.2H831.9Z"/>
<path fill="#d1ed9c" d="M171.4 697.8H217.9V713.5H171.4Z"/>
<path fill="#d1ed9c" d="M801.2 697.8H832.3V713.5H801.2Z"/>
<path fill="#d1ed9c" d="M770.5 713.1H801.6V728.9H770.5Z"/>
<path fill="#d1ed9c" d="M156.1 728.5H187.2V744.2H156.1Z"/>
<path fill="#d1ed9c" d="M202.2 728.5H264V759.6H202.2Z"/>
<path fill="#d1ed9c" d="M724.4 728.5H770.9V744.2H724.4Z"/>
<path fill="#d1ed9c" d="M171.4 743.8H187.2V759.6H171.4Z"/>
<path fill="#d1ed9c" d="M647.6 743.8H740.2V759.6H647.6Z"/>
<path fill="#d1ed9c" d="M202.2 759.2H279.4V775H202.2Z"/>
<path fill="#d1ed9c" d="M509.4 759.2H678.7V775H509.4Z"/>
<path fill="#d1ed9c" d="M202.2 774.6H356.2V790.3H202.2Z"/>
<path fill="#d1ed9c" d="M478.6 774.6H601.9V790.3H478.6Z"/>
<path fill="#d1ed9c" d="M202.2 789.9H371.5V805.7H202.2Z"/>
<path fill="#d1ed9c" d="M478.6 789.9H586.6V805.7H478.6Z"/>
<path fill="#d1ed9c" d="M202.2 805.3H402.2V821H202.2Z"/>
<path fill="#d1ed9c" d="M463.3 805.3H509.8V821H463.3Z"/>
<path fill="#d1ed9c" d="M217.5 820.6H402.2V836.4H217.5Z"/>
<path fill="#d1ed9c" d="M463.3 820.6H479V836.4H463.3Z"/>
<path fill="#d1ed9c" d="M509.4 820.6H525.1V836.4H509.4Z"/>
<path fill="#d1ed9c" d="M232.9 836H248.6V851.8H232.9Z"/>
<path fill="#d1ed9c" d="M279 836H402.2V851.8H279Z"/>
<path fill="#d1ed9c" d="M447.9 836H479V851.8H447.9Z"/>
<path fill="#d1ed9c" d="M447.9 882.1H479V897.8H447.9Z"/>
<path fill="#d1ed9c" d="M494 836H509.8V851.8H494Z"/>
<path fill="#d1ed9c" d="M540.1 836H555.8V851.8H540.1Z"/>
<path fill="#d1ed9c" d="M570.8 836H586.6V851.8H570.8Z"/>
<path fill="#d1ed9c" d="M309.7 851.4H402.2V867.1H309.7Z"/>
<path fill="#d1ed9c" d="M447.9 851.4H494.4V882.5H447.9Z"/>
<path fill="#d1ed9c" d="M340.4 866.7H417.6V882.5H340.4Z"/>
<path fill="#d1ed9c" d="M524.7 866.7H540.5V882.5H524.7Z"/>
<path fill="#d1ed9c" d="M355.8 882.1H371.5V897.8H355.8Z"/>
<path fill="#d1ed9c" d="M386.5 897.4H417.6V913.2H386.5Z"/>
<path fill="#d1ed9c" d="M478.6 897.4H494.4V913.2H478.6Z"/>
<path fill="#d1ed9c" d="M432.6 912.8H448.3V928.6H432.6Z"/>
<path fill="#ebf7a0" d="M1507.8 137H1523.5V160.6H1507.8Z"/>
<path fill="#ebf7a0" d="M1492.4 160.2H1508.2V175.9H1492.4Z"/>
<path fill="#ebf7a0" d="M1477 175.5H1492.8V206.6H1477Z"/>
<path fill="#ebf7a0" d="M102 206.2H110.4V222H102Z"/>
<path fill="#ebf7a0" d="M102 252.3H110.4V329.5H102Z"/>
<path fill="#ebf7a0" d="M102 605.6H110.4V636.7H102Z"/>
<path fill="#ebf7a0" d="M1461.7 206.2H1477.4V222H1461.7Z"/>
<path fill="#ebf7a0" d="M102 221.6H125.8V252.7H102Z"/>
<path fill="#ebf7a0" d="M102 713.1H125.8V728.9H102Z"/>
<path fill="#ebf7a0" d="M1446.3 221.6H1462.1V252.7H1446.3Z"/>
<path fill="#ebf7a0" d="M1431 252.3H1446.7V268.1H1431Z"/>
<path fill="#ebf7a0" d="M1415.6 267.7H1431.4V283.4H1415.6Z"/>
<path fill="#ebf7a0" d="M1400.2 283H1416V298.8H1400.2Z"/>
<path fill="#ebf7a0" d="M1384.9 298.4H1416V314.2H1384.9Z"/>
<path fill="#ebf7a0" d="M1384.9 313.8H1400.6V329.5H1384.9Z"/>
<path fill="#ebf7a0" d="M1369.5 329.1H1385.3V344.9H1369.5Z"/>
<path fill="#ebf7a0" d="M1354.2 344.5H1369.9V360.2H1354.2Z"/>
<path fill="#ebf7a0" d="M1338.8 359.8H1354.6V375.6H1338.8Z"/>
<path fill="#ebf7a0" d="M1323.4 375.2H1339.2V391H1323.4Z"/>
<path fill="#ebf7a0" d="M1308.1 390.6H1323.8V406.3H1308.1Z"/>
<path fill="#ebf7a0" d="M1277.4 405.9H1308.5V421.7H1277.4Z"/>
<path fill="#ebf7a0" d="M1262 421.3H1277.8V437H1262Z"/>
<path fill="#ebf7a0" d="M1246.6 436.6H1262.4V452.4H1246.6Z"/>
<path fill="#ebf7a0" d="M1215.9 452H1247V467.8H1215.9Z"/>
<path fill="#ebf7a0" d="M1200.6 467.4H1216.3V483.1H1200.6Z"/>
<path fill="#ebf7a0" d="M1185.2 482.7H1201V498.5H1185.2Z"/>
<path fill="#ebf7a0" d="M1154.5 498.1H1185.6V513.8H1154.5Z"/>
<path fill="#ebf7a0" d="M1139.1 513.4H1154.9V529.2H1139.1Z"/>
<path fill="#ebf7a0" d="M1123.8 528.8H1139.5V544.6H1123.8Z"/>
<path fill="#ebf7a0" d="M1093 544.2H1124.2V559.9H1093Z"/>
<path fill="#ebf7a0" d="M1077.7 559.5H1093.4V575.3H1077.7Z"/>
<path fill="#ebf7a0" d="M1062.3 574.9H1078.1V590.6H1062.3Z"/>
<path fill="#ebf7a0" d="M1047 590.2H1062.7V606H1047Z"/>
<path fill="#ebf7a0" d="M1016.2 605.6H1047.4V621.4H1016.2Z"/>
<path fill="#ebf7a0" d="M985.5 621H1032V636.7H985.5Z"/>
<path fill="#ebf7a0" d="M954.8 636.3H1001.3V652.1H954.8Z"/>
<path fill="#ebf7a0" d="M924.1 651.7H970.6V667.4H924.1Z"/>
<path fill="#ebf7a0" d="M893.4 667H924.5V682.8H893.4Z"/>
<path fill="#ebf7a0" d="M862.6 682.4H893.8V698.2H862.6Z"/>
<path fill="#ebf7a0" d="M831.9 697.8H863V713.5H831.9Z"/>
<path fill="#ebf7a0" d="M801.2 713.1H832.3V728.9H801.2Z"/>
<path fill="#ebf7a0" d="M140.7 728.5H156.5V744.2H140.7Z"/>
<path fill="#ebf7a0" d="M770.5 728.5H801.6V744.2H770.5Z"/>
<path fill="#ebf7a0" d="M739.8 743.8H786.2V759.6H739.8Z"/>
<path fill="#ebf7a0" d="M186.8 759.2H202.6V821H186.8Z"/>
<path fill="#ebf7a0" d="M678.3 759.2H740.2V775H678.3Z"/>
<path fill="#ebf7a0" d="M601.5 774.6H678.7V790.3H601.5Z"/>
<path fill="#ebf7a0" d="M586.2 789.9H632.6V805.7H586.2Z"/>
<path fill="#ebf7a0" d="M509.4 805.3H586.6V821H509.4Z"/>
<path fill="#ebf7a0" d="M202.2 820.6H217.9V836.4H202.2Z"/>
<path fill="#ebf7a0" d="M478.6 820.6H509.8V836.4H478.6Z"/>
<path fill="#ebf7a0" d="M524.7 820.6H586.6V836.4H524.7Z"/>
<path fill="#ebf7a0" d="M478.6 836H494.4V851.8H478.6Z"/>
<path fill="#ebf7a0" d="M478.6 882.1H494.4V897.8H478.6Z"/>
<path fill="#ebf7a0" d="M509.4 836H540.5V851.8H509.4Z"/>
<path fill="#ebf7a0" d="M555.4 836H571.2V851.8H555.4Z"/>
<path fill="#ebf7a0" d="M494 851.4H525.1V867.1H494Z"/>
<path fill="#ebf7a0" d="M325 866.7H340.8V882.5H325Z"/>
<path fill="#ebf7a0" d="M494 866.7H509.8V882.5H494Z"/>
<path fill="#ebf7a0" d="M447.9 897.4H463.7V928.6H447.9Z"/>
<path fill="#ebf7a0" d="M417.2 912.8H433V928.6H417.2Z"/>
<path fill="#f8fcb4" d="M1523.1 137H1538.9V145.2H1523.1Z"/>
<path fill="#f8fcb4" d="M1507.8 160.2H1523.5V175.9H1507.8Z"/>
<path fill="#f8fcb4" d="M1492.4 175.5H1508.2V206.6H1492.4Z"/>
<path fill="#f8fcb4" d="M1477 206.2H1492.8V222H1477Z"/>
<path fill="#f8fcb4" d="M1461.7 221.6H1477.4V252.7H1461.7Z"/>
<path fill="#f8fcb4" d="M1446.3 252.3H1462.1V268.1H1446.3Z"/>
<path fill="#f8fcb4" d="M1431 267.7H1446.7V283.4H1431Z"/>
<path fill="#f8fcb4" d="M1415.6 283H1446.7V298.8H1415.6Z"/>
<path fill="#f8fcb4" d="M1415.6 298.4H1431.4V314.2H1415.6Z"/>
<path fill="#f8fcb4" d="M1400.2 313.8H1416V329.5H1400.2Z"/>
<path fill="#f8fcb4" d="M1384.9 329.1H1400.6V344.9H1384.9Z"/>
<path fill="#f8fcb4" d="M1369.5 344.5H1385.3V360.2H1369.5Z"/>
<path fill="#f8fcb4" d="M1354.2 359.8H1369.9V375.6H1354.2Z"/>
<path fill="#f8fcb4" d="M1338.8 375.2H1354.6V391H1338.8Z"/>
<path fill="#f8fcb4" d="M1323.4 390.6H1339.2V406.3H1323.4Z"/>
<path fill="#f8fcb4" d="M1308.1 405.9H1323.8V421.7H1308.1Z"/>
<path fill="#f8fcb4" d="M1277.4 421.3H1308.5V437H1277.4Z"/>
<path fill="#f8fcb4" d="M1262 436.6H1277.8V452.4H1262Z"/>
<path fill="#f8fcb4" d="M1246.6 452H1262.4V467.8H1246.6Z"/>
<path fill="#f8fcb4" d="M1215.9 467.4H1247V483.1H1215.9Z"/>
<path fill="#f8fcb4" d="M1200.6 482.7H1216.3V498.5H1200.6Z"/>
<path fill="#f8fcb4" d="M1185.2 498.1H1201V513.8H1185.2Z"/>
<path fill="#f8fcb4" d="M1154.5 513.4H1185.6V529.2H1154.5Z"/>
<path fill="#f8fcb4" d="M1139.1 528.8H1154.9V544.6H1139.1Z"/>
<path fill="#f8fcb4" d="M1123.8 544.2H1139.5V559.9H1123.8Z"/>
<path fill="#f8fcb4" d="M1093 559.5H1124.2V575.3H1093Z"/>
<path fill="#f8fcb4" d="M1077.7 574.9H1093.4V590.6H1077.7Z"/>
<path fill="#f8fcb4" d="M1062.3 590.2H1078.1V606H1062.3Z"/>
<path fill="#f8fcb4" d="M1047 605.6H1062.7V621.4H1047Z"/>
<path fill="#f8fcb4" d="M1031.6 621H1062.7V636.7H1031.6Z"/>
<path fill="#f8fcb4" d="M1000.9 636.3H1032V652.1H1000.9Z"/>
<path fill="#f8fcb4" d="M970.2 651.7H1001.3V667.4H970.2Z"/>
<path fill="#f8fcb4" d="M924.1 667H970.6V682.8H924.1Z"/>
<path fill="#f8fcb4" d="M893.4 682.4H939.8V698.2H893.4Z"/>
<path fill="#f8fcb4" d="M862.6 697.8H893.8V713.5H862.6Z"/>
<path fill="#f8fcb4" d="M831.9 713.1H863V728.9H831.9Z"/>
<path fill="#f8fcb4" d="M125.4 728.5H141.1V744.2H125.4Z"/>
<path fill="#f8fcb4" d="M801.2 728.5H832.3V744.2H801.2Z"/>
<path fill="#f8fcb4" d="M156.1 743.8H171.8V759.6H156.1Z"/>
<path fill="#f8fcb4" d="M785.8 743.8H817V759.6H785.8Z"/>
<path fill="#f8fcb4" d="M171.4 759.2H187.2V775H171.4Z"/>
<path fill="#f8fcb4" d="M739.8 759.2H786.2V775H739.8Z"/>
<path fill="#f8fcb4" d="M678.3 774.6H740.2V790.3H678.3Z"/>
<path fill="#f8fcb4" d="M632.2 789.9H694.1V805.7H632.2Z"/>
<path fill="#f8fcb4" d="M586.2 805.3H648V821H586.2Z"/>
<path fill="#f8fcb4" d="M186.8 820.6H202.6V836.4H186.8Z"/>
<path fill="#f8fcb4" d="M586.2 820.6H601.9V836.4H586.2Z"/>
<path fill="#f8fcb4" d="M217.5 836H233.3V851.8H217.5Z"/>
<path fill="#f8fcb4" d="M248.2 836H279.4V851.8H248.2Z"/>
<path fill="#f8fcb4" d="M294.3 851.4H310.1V867.1H294.3Z"/>
<path fill="#f8fcb4" d="M524.7 851.4H571.2V867.1H524.7Z"/>
<path fill="#f8fcb4" d="M509.4 866.7H525.1V882.5H509.4Z"/>
<path fill="#f8fcb4" d="M540.1 866.7H555.8V882.5H540.1Z"/>
<path fill="#f8fcb4" d="M494 882.1H525.1V897.8H494Z"/>
<path fill="#f8fcb4" d="M371.1 897.4H386.9V913.2H371.1Z"/>
<path fill="#f8fcb4" d="M401.8 912.8H417.6V928.6H401.8Z"/>
<path fill="#f8fcb4" d="M463.3 912.8H479V928.6H463.3Z"/>
<path fill="#fff7b2" d="M1538.5 137H1554.2V145.2H1538.5Z"/>
<path fill="#fff7b2" d="M1523.1 144.8H1554.2V160.6H1523.1Z"/>
<path fill="#fff7b2" d="M1523.1 160.2H1538.9V175.9H1523.1Z"/>
<path fill="#fff7b2" d="M1507.8 175.5H1523.5V206.6H1507.8Z"/>
<path fill="#fff7b2" d="M1492.4 206.2H1508.2V222H1492.4Z"/>
<path fill="#fff7b2" d="M1477 221.6H1492.8V252.7H1477Z"/>
<path fill="#fff7b2" d="M1461.7 252.3H1477.4V268.1H1461.7Z"/>
<path fill="#fff7b2" d="M1446.3 267.7H1477.4V283.4H1446.3Z"/>
<path fill="#fff7b2" d="M1446.3 283H1462.1V298.8H1446.3Z"/>
<path fill="#fff7b2" d="M1431 298.4H1446.7V314.2H1431Z"/>
<path fill="#fff7b2" d="M1415.6 313.8H1431.4V329.5H1415.6Z"/>
<path fill="#fff7b2" d="M1400.2 329.1H1416V344.9H1400.2Z"/>
<path fill="#fff7b2" d="M1384.9 344.5H1400.6V360.2H1384.9Z"/>
<path fill="#fff7b2" d="M1369.5 359.8H1385.3V375.6H1369.5Z"/>
<path fill="#fff7b2" d="M1354.2 375.2H1369.9V391H1354.2Z"/>
<path fill="#fff7b2" d="M1338.8 390.6H1354.6V406.3H1338.8Z"/>
<path fill="#fff7b2" d="M1323.4 405.9H1354.6V421.7H1323.4Z"/>
<path fill="#fff7b2" d="M1308.1 421.3H1339.2V437H1308.1Z"/>
<path fill="#fff7b2" d="M1277.4 436.6H1308.5V452.4H1277.4Z"/>
<path fill="#fff7b2" d="M1262 452H1293.1V467.8H1262Z"/>
<path fill="#fff7b2" d="M1246.6 467.4H1277.8V483.1H1246.6Z"/>
<path fill="#fff7b2" d="M1215.9 482.7H1247V498.5H1215.9Z"/>
<path fill="#fff7b2" d="M1200.6 498.1H1231.7V513.8H1200.6Z"/>
<path fill="#fff7b2" d="M1185.2 513.4H1216.3V529.2H1185.2Z"/>
<path fill="#fff7b2" d="M1154.5 528.8H1185.6V544.6H1154.5Z"/>
<path fill="#fff7b2" d="M1139.1 544.2H1170.2V559.9H1139.1Z"/>
<path fill="#fff7b2" d="M1123.8 559.5H1154.9V575.3H1123.8Z"/>
<path fill="#fff7b2" d="M1093 574.9H1124.2V590.6H1093Z"/>
<path fill="#fff7b2" d="M1077.7 590.2H1108.8V606H1077.7Z"/>
<path fill="#fff7b2" d="M1062.3 605.6H1093.4V621.4H1062.3Z"/>
<path fill="#fff7b2" d="M1062.3 621H1078.1V636.7H1062.3Z"/>
<path fill="#fff7b2" d="M1031.6 636.3H1062.7V652.1H1031.6Z"/>
<path fill="#fff7b2" d="M1000.9 651.7H1032V667.4H1000.9Z"/>
<path fill="#fff7b2" d="M970.2 667H1001.3V682.8H970.2Z"/>
<path fill="#fff7b2" d="M939.4 682.4H970.6V698.2H939.4Z"/>
<path fill="#fff7b2" d="M893.4 697.8H939.8V713.5H893.4Z"/>
<path fill="#fff7b2" d="M862.6 713.1H893.8V728.9H862.6Z"/>
<path fill="#fff7b2" d="M110 728.5H125.8V744.2H110Z"/>
<path fill="#fff7b2" d="M831.9 728.5H863V744.2H831.9Z"/>
<path fill="#fff7b2" d="M816.6 743.8H832.3V759.6H816.6Z"/>
<path fill="#fff7b2" d="M785.8 759.2H801.6V775H785.8Z"/>
<path fill="#fff7b2" d="M739.8 774.6H770.9V790.3H739.8Z"/>
<path fill="#fff7b2" d="M171.4 789.9H187.2V805.7H171.4Z"/>
<path fill="#fff7b2" d="M693.7 789.9H724.8V805.7H693.7Z"/>
<path fill="#fff7b2" d="M647.6 805.3H694.1V821H647.6Z"/>
<path fill="#fff7b2" d="M601.5 820.6H663.4V836.4H601.5Z"/>
<path fill="#fff7b2" d="M186.8 836H217.9V851.8H186.8Z"/>
<path fill="#fff7b2" d="M586.2 836H632.6V851.8H586.2Z"/>
<path fill="#fff7b2" d="M570.8 851.4H601.9V867.1H570.8Z"/>
<path fill="#fff7b2" d="M309.7 866.7H325.4V882.5H309.7Z"/>
<path fill="#fff7b2" d="M555.4 866.7H586.6V882.5H555.4Z"/>
<path fill="#fff7b2" d="M340.4 882.1H356.2V897.8H340.4Z"/>
<path fill="#fff7b2" d="M524.7 882.1H571.2V897.8H524.7Z"/>
<path fill="#fff7b2" d="M494 897.4H571.2V913.2H494Z"/>
<path fill="#fff7b2" d="M386.5 912.8H402.2V928.6H386.5Z"/>
<path fill="#fff7b2" d="M478.6 912.8H525.1V928.6H478.6Z"/>
<path fill="#fff7b2" d="M540.1 912.8H571.2V928.6H540.1Z"/>
<path fill="#fff7b2" d="M478.6 928.2H509.8V943.9H478.6Z"/>
<path fill="#fee797" d="M1553.8 137H1569.6V160.6H1553.8Z"/>
<path fill="#fee797" d="M1538.5 160.2H1554.2V175.9H1538.5Z"/>
<path fill="#fee797" d="M1523.1 175.5H1554.2V191.3H1523.1Z"/>
<path fill="#fee797" d="M1523.1 190.9H1538.9V206.6H1523.1Z"/>
<path fill="#fee797" d="M1507.8 206.2H1523.5V222H1507.8Z"/>
<path fill="#fee797" d="M1492.4 221.6H1508.2V252.7H1492.4Z"/>
<path fill="#fee797" d="M1477 252.3H1492.8V283.4H1477Z"/>
<path fill="#fee797" d="M1461.7 283H1477.4V298.8H1461.7Z"/>
<path fill="#fee797" d="M1446.3 298.4H1462.1V314.2H1446.3Z"/>
<path fill="#fee797" d="M1431 313.8H1446.7V329.5H1431Z"/>
<path fill="#fee797" d="M1415.6 329.1H1431.4V344.9H1415.6Z"/>
<path fill="#fee797" d="M1400.2 344.5H1416V360.2H1400.2Z"/>
<path fill="#fee797" d="M1384.9 359.8H1416V375.6H1384.9Z"/>
<path fill="#fee797" d="M1369.5 375.2H1385.3V391H1369.5Z"/>
<path fill="#fee797" d="M1354.2 390.6H1369.9V421.7H1354.2Z"/>
<path fill="#fee797" d="M1338.8 421.3H1354.6V437H1338.8Z"/>
<path fill="#fee797" d="M1308.1 436.6H1323.8V452.4H1308.1Z"/>
<path fill="#fee797" d="M1292.7 452H1308.5V467.8H1292.7Z"/>
<path fill="#fee797" d="M1277.4 467.4H1293.1V483.1H1277.4Z"/>
<path fill="#fee797" d="M1246.6 482.7H1277.8V498.5H1246.6Z"/>
<path fill="#fee797" d="M1231.3 498.1H1262.4V513.8H1231.3Z"/>
<path fill="#fee797" d="M1215.9 513.4H1231.7V529.2H1215.9Z"/>
<path fill="#fee797" d="M1185.2 528.8H1201V544.6H1185.2Z"/>
<path fill="#fee797" d="M1169.8 544.2H1185.6V559.9H1169.8Z"/>
<path fill="#fee797" d="M1154.5 559.5H1170.2V575.3H1154.5Z"/>
<path fill="#fee797" d="M1123.8 574.9H1154.9V590.6H1123.8Z"/>
<path fill="#fee797" d="M1108.4 590.2H1124.2V606H1108.4Z"/>
<path fill="#fee797" d="M1093 605.6H1108.8V621.4H1093Z"/>
<path fill="#fee797" d="M1062.3 636.3H1078.1V652.1H1062.3Z"/>
<path fill="#fee797" d="M1031.6 651.7H1062.7V667.4H1031.6Z"/>
<path fill="#fee797" d="M1000.9 667H1032V682.8H1000.9Z"/>
<path fill="#fee797" d="M970.2 682.4H1016.6V698.2H970.2Z"/>
<path fill="#fee797" d="M939.4 697.8H985.9V713.5H939.4Z"/>
<path fill="#fee797" d="M893.4 713.1H955.2V728.9H893.4Z"/>
<path fill="#fee797" d="M102 728.5H110.4V744.2H102Z"/>
<path fill="#fee797" d="M862.6 728.5H924.5V744.2H862.6Z"/>
<path fill="#fee797" d="M125.4 743.8H156.5V759.6H125.4Z"/>
<path fill="#fee797" d="M831.9 743.8H893.8V759.6H831.9Z"/>
<path fill="#fee797" d="M801.2 759.2H832.3V775H801.2Z"/>
<path fill="#fee797" d="M171.4 774.6H187.2V790.3H171.4Z"/>
<path fill="#fee797" d="M171.4 805.3H187.2V851.8H171.4Z"/>
<path fill="#fee797" d="M770.5 774.6H817V790.3H770.5Z"/>
<path fill="#fee797" d="M724.4 789.9H755.5V805.7H724.4Z"/>
<path fill="#fee797" d="M693.7 805.3H724.8V821H693.7Z"/>
<path fill="#fee797" d="M663 820.6H694.1V836.4H663Z"/>
<path fill="#fee797" d="M632.2 836H663.4V851.8H632.2Z"/>
<path fill="#fee797" d="M186.8 851.4H248.6V867.1H186.8Z"/>
<path fill="#fee797" d="M601.5 851.4H632.6V867.1H601.5Z"/>
<path fill="#fee797" d="M586.2 866.7H617.3V882.5H586.2Z"/>
<path fill="#fee797" d="M570.8 882.1H601.9V928.6H570.8Z"/>
<path fill="#fee797" d="M355.8 897.4H371.5V913.2H355.8Z"/>
<path fill="#fee797" d="M524.7 912.8H540.5V928.6H524.7Z"/>
<path fill="#fee797" d="M417.2 928.2H433V943.9H417.2Z"/>
<path fill="#fee797" d="M509.4 928.2H571.2V943.9H509.4Z"/>
<path fill="#fed07e" d="M1569.2 137H1600.3V160.6H1569.2Z"/>
<path fill="#fed07e" d="M1553.8 160.2H1585V175.9H1553.8Z"/>
<path fill="#fed07e" d="M1553.8 175.5H1569.6V191.3H1553.8Z"/>
<path fill="#fed07e" d="M1538.5 190.9H1554.2V206.6H1538.5Z"/>
<path fill="#fed07e" d="M1523.1 206.2H1538.9V222H1523.1Z"/>
<path fill="#fed07e" d="M1507.8 221.6H1523.5V252.7H1507.8Z"/>
<path fill="#fed07e" d="M1492.4 252.3H1508.2V283.4H1492.4Z"/>
<path fill="#fed07e" d="M1477 283H1492.8V298.8H1477Z"/>
<path fill="#fed07e" d="M1461.7 298.4H1477.4V314.2H1461.7Z"/>
<path fill="#fed07e" d="M1446.3 313.8H1462.1V329.5H1446.3Z"/>
<path fill="#fed07e" d="M1431 329.1H1462.1V344.9H1431Z"/>
<path fill="#fed07e" d="M1415.6 344.5H1446.7V360.2H1415.6Z"/>
<path fill="#fed07e" d="M1415.6 359.8H1431.4V375.6H1415.6Z"/>
<path fill="#fed07e" d="M1384.9 375.2H1416V391H1384.9Z"/>
<path fill="#fed07e" d="M1369.5 390.6H1400.6V406.3H1369.5Z"/>
<path fill="#fed07e" d="M1369.5 405.9H1385.3V421.7H1369.5Z"/>
<path fill="#fed07e" d="M1354.2 421.3H1369.9V437H1354.2Z"/>
<path fill="#fed07e" d="M1323.4 436.6H1354.6V452.4H1323.4Z"/>
<path fill="#fed07e" d="M1308.1 452H1323.8V467.8H1308.1Z"/>
<path fill="#fed07e" d="M1292.7 467.4H1308.5V483.1H1292.7Z"/>
<path fill="#fed07e" d="M1277.4 482.7H1293.1V498.5H1277.4Z"/>
<path fill="#fed07e" d="M1262 498.1H1277.8V513.8H1262Z"/>
<path fill="#fed07e" d="M1231.3 513.4H1247V529.2H1231.3Z"/>
<path fill="#fed07e" d="M1200.6 528.8H1231.7V544.6H1200.6Z"/>
<path fill="#fed07e" d="M1185.2 544.2H1201V559.9H1185.2Z"/>
<path fill="#fed07e" d="M1169.8 559.5H1185.6V575.3H1169.8Z"/>
<path fill="#fed07e" d="M1154.5 574.9H1170.2V590.6H1154.5Z"/>
<path fill="#fed07e" d="M1123.8 590.2H1154.9V606H1123.8Z"/>
<path fill="#fed07e" d="M1108.4 605.6H1139.5V621.4H1108.4Z"/>
<path fill="#fed07e" d="M1077.7 621H1108.8V636.7H1077.7Z"/>
<path fill="#fed07e" d="M1077.7 636.3H1093.4V652.1H1077.7Z"/>
<path fill="#fed07e" d="M1062.3 651.7H1078.1V667.4H1062.3Z"/>
<path fill="#fed07e" d="M1031.6 667H1062.7V682.8H1031.6Z"/>
<path fill="#fed07e" d="M1016.2 682.4H1047.4V698.2H1016.2Z"/>
<path fill="#fed07e" d="M985.5 697.8H1032V713.5H985.5Z"/>
<path fill="#fed07e" d="M954.8 713.1H985.9V728.9H954.8Z"/>
<path fill="#fed07e" d="M924.1 728.5H985.9V744.2H924.1Z"/>
<path fill="#fed07e" d="M893.4 743.8H955.2V759.6H893.4Z"/>
<path fill="#fed07e" d="M156.1 759.2H171.8V775H156.1Z"/>
<path fill="#fed07e" d="M831.9 759.2H909.1V775H831.9Z"/>
<path fill="#fed07e" d="M816.6 774.6H847.7V790.3H816.6Z"/>
<path fill="#fed07e" d="M755.1 789.9H817V805.7H755.1Z"/>
<path fill="#fed07e" d="M724.4 805.3H770.9V821H724.4Z"/>
<path fill="#fed07e" d="M693.7 820.6H740.2V836.4H693.7Z"/>
<path fill="#fed07e" d="M663 836H709.4V851.8H663Z"/>
<path fill="#fed07e" d="M279 851.4H294.7V867.1H279Z"/>
<path fill="#fed07e" d="M632.2 851.4H678.7V867.1H632.2Z"/>
<path fill="#fed07e" d="M616.9 866.7H648V882.5H616.9Z"/>
<path fill="#fed07e" d="M601.5 882.1H648V897.8H601.5Z"/>
<path fill="#fed07e" d="M601.5 897.4H632.6V913.2H601.5Z"/>
<path fill="#fed07e" d="M601.5 912.8H617.3V928.6H601.5Z"/>
<path fill="#fed07e" d="M570.8 928.2H617.3V943.9H570.8Z"/>
<path fill="#fed07e" d="M524.7 943.5H617.3V959.3H524.7Z"/>
<path fill="#fed07e" d="M570.8 958.9H601.9V974.6H570.8Z"/>
<path fill="#fdb768" d="M1599.9 137H1638.4V160.6H1599.9Z"/>
<path fill="#fdb768" d="M1584.6 160.2H1638.4V175.9H1584.6Z"/>
<path fill="#fdb768" d="M1569.2 175.5H1631V191.3H1569.2Z"/>
<path fill="#fdb768" d="M1553.8 190.9H1585V206.6H1553.8Z"/>
<path fill="#fdb768" d="M1538.5 206.2H1569.6V222H1538.5Z"/>
<path fill="#fdb768" d="M1523.1 221.6H1554.2V237.4H1523.1Z"/>
<path fill="#fdb768" d="M1523.1 237H1538.9V252.7H1523.1Z"/>
<path fill="#fdb768" d="M1507.8 252.3H1538.9V268.1H1507.8Z"/>
<path fill="#fdb768" d="M1507.8 267.7H1523.5V283.4H1507.8Z"/>
<path fill="#fdb768" d="M1492.4 283H1508.2V298.8H1492.4Z"/>
<path fill="#fdb768" d="M1477 298.4H1508.2V314.2H1477Z"/>
<path fill="#fdb768" d="M1461.7 313.8H1492.8V344.9H1461.7Z"/>
<path fill="#fdb768" d="M1446.3 344.5H1477.4V360.2H1446.3Z"/>
<path fill="#fdb768" d="M1431 359.8H1462.1V375.6H1431Z"/>
<path fill="#fdb768" d="M1415.6 375.2H1446.7V391H1415.6Z"/>
<path fill="#fdb768" d="M1400.2 390.6H1431.4V406.3H1400.2Z"/>
<path fill="#fdb768" d="M1384.9 405.9H1400.6V421.7H1384.9Z"/>
<path fill="#fdb768" d="M1369.5 421.3H1385.3V437H1369.5Z"/>
<path fill="#fdb768" d="M1354.2 436.6H1369.9V452.4H1354.2Z"/>
<path fill="#fdb768" d="M1323.4 452H1354.6V467.8H1323.4Z"/>
<path fill="#fdb768" d="M1308.1 467.4H1339.2V483.1H1308.1Z"/>
<path fill="#fdb768" d="M1292.7 482.7H1308.5V498.5H1292.7Z"/>
<path fill="#fdb768" d="M1277.4 498.1H1308.5V513.8H1277.4Z"/>
<path fill="#fdb768" d="M1246.6 513.4H1293.1V529.2H1246.6Z"/>
<path fill="#fdb768" d="M1231.3 528.8H1262.4V544.6H1231.3Z"/>
<path fill="#fdb768" d="M1200.6 544.2H1231.7V559.9H1200.6Z"/>
<path fill="#fdb768" d="M1185.2 559.5H1216.3V575.3H1185.2Z"/>
<path fill="#fdb768" d="M1169.8 574.9H1185.6V590.6H1169.8Z"/>
<path fill="#fdb768" d="M1154.5 590.2H1170.2V606H1154.5Z"/>
<path fill="#fdb768" d="M1139.1 605.6H1154.9V621.4H1139.1Z"/>
<path fill="#fdb768" d="M1108.4 621H1139.5V636.7H1108.4Z"/>
<path fill="#fdb768" d="M1093 636.3H1108.8V652.1H1093Z"/>
<path fill="#fdb768" d="M1077.7 651.7H1093.4V667.4H1077.7Z"/>
<path fill="#fdb768" d="M1062.3 667H1078.1V682.8H1062.3Z"/>
<path fill="#fdb768" d="M1047 682.4H1078.1V698.2H1047Z"/>
<path fill="#fdb768" d="M1031.6 697.8H1062.7V713.5H1031.6Z"/>
<path fill="#fdb768" d="M985.5 713.1H1032V728.9H985.5Z"/>
<path fill="#fdb768" d="M985.5 728.5H1001.3V744.2H985.5Z"/>
<path fill="#fdb768" d="M110 743.8H125.8V759.6H110Z"/>
<path fill="#fdb768" d="M954.8 743.8H1001.3V759.6H954.8Z"/>
<path fill="#fdb768" d="M140.7 759.2H156.5V775H140.7Z"/>
<path fill="#fdb768" d="M908.7 759.2H955.2V775H908.7Z"/>
<path fill="#fdb768" d="M156.1 774.6H171.8V821H156.1Z"/>
<path fill="#fdb768" d="M847.3 774.6H893.8V790.3H847.3Z"/>
<path fill="#fdb768" d="M816.6 789.9H832.3V805.7H816.6Z"/>
<path fill="#fdb768" d="M770.5 805.3H801.6V821H770.5Z"/>
<path fill="#fdb768" d="M739.8 820.6H770.9V836.4H739.8Z"/>
<path fill="#fdb768" d="M709 836H770.9V851.8H709Z"/>
<path fill="#fdb768" d="M248.2 851.4H264V867.1H248.2Z"/>
<path fill="#fdb768" d="M678.3 851.4H755.5V867.1H678.3Z"/>
<path fill="#fdb768" d="M647.6 866.7H709.4V882.5H647.6Z"/>
<path fill="#fdb768" d="M325 882.1H340.8V897.8H325Z"/>
<path fill="#fdb768" d="M647.6 882.1H678.7V897.8H647.6Z"/>
<path fill="#fdb768" d="M632.2 897.4H663.4V913.2H632.2Z"/>
<path fill="#fdb768" d="M616.9 912.8H663.4V928.6H616.9Z"/>
<path fill="#fdb768" d="M401.8 928.2H417.6V943.9H401.8Z"/>
<path fill="#fdb768" d="M432.6 928.2H448.3V943.9H432.6Z"/>
<path fill="#fdb768" d="M616.9 928.2H648V959.3H616.9Z"/>
<path fill="#fdb768" d="M509.4 943.5H525.1V959.3H509.4Z"/>
<path fill="#fdb768" d="M524.7 958.9H571.2V974.6H524.7Z"/>
<path fill="#fdb768" d="M601.5 958.9H632.6V974.6H601.5Z"/>
<path fill="#fdb768" d="M540.1 974.2H617.3V990H540.1Z"/>
<path fill="#fdb768" d="M555.4 989.6H617.3V1020.7H555.4Z"/>
<path fill="#fdb768" d="M570.8 1020.3H601.9V1036.1H570.8Z"/>
<path fill="#fdb768" d="M586.2 1035.7H617.3V1051.4H586.2Z"/>
<path fill="#fdb768" d="M601.5 1051H617.3V1066.8H601.5Z"/>
<path fill="#fa9857" d="M1630.6 175.5H1638.4V191.3H1630.6Z"/>
<path fill="#fa9857" d="M1630.6 237H1638.4V252.7H1630.6Z"/>
<path fill="#fa9857" d="M1584.6 190.9H1638.4V206.6H1584.6Z"/>
<path fill="#fa9857" d="M1569.2 206.2H1638.4V222H1569.2Z"/>
<path fill="#fa9857" d="M1553.8 221.6H1638.4V237.4H1553.8Z"/>
<path fill="#fa9857" d="M1538.5 237H1615.7V252.7H1538.5Z"/>
<path fill="#fa9857" d="M1538.5 252.3H1600.3V268.1H1538.5Z"/>
<path fill="#fa9857" d="M1523.1 267.7H1554.2V283.4H1523.1Z"/>
<path fill="#fa9857" d="M1507.8 283H1523.5V314.2H1507.8Z"/>
<path fill="#fa9857" d="M1492.4 313.8H1508.2V344.9H1492.4Z"/>
<path fill="#fa9857" d="M1477 344.5H1492.8V360.2H1477Z"/>
<path fill="#fa9857" d="M1461.7 359.8H1477.4V375.6H1461.7Z"/>
<path fill="#fa9857" d="M1446.3 375.2H1462.1V391H1446.3Z"/>
<path fill="#fa9857" d="M1431 390.6H1446.7V406.3H1431Z"/>
<path fill="#fa9857" d="M1400.2 405.9H1431.4V421.7H1400.2Z"/>
<path fill="#fa9857" d="M1384.9 421.3H1416V437H1384.9Z"/>
<path fill="#fa9857" d="M1369.5 436.6H1400.6V452.4H1369.5Z"/>
<path fill="#fa9857" d="M1354.2 452H1369.9V467.8H1354.2Z"/>
<path fill="#fa9857" d="M1338.8 467.4H1354.6V483.1H1338.8Z"/>
<path fill="#fa9857" d="M1308.1 482.7H1339.2V498.5H1308.1Z"/>
<path fill="#fa9857" d="M1308.1 498.1H1323.8V513.8H1308.1Z"/>
<path fill="#fa9857" d="M1292.7 513.4H1308.5V529.2H1292.7Z"/>
<path fill="#fa9857" d="M1262 528.8H1293.1V544.6H1262Z"/>
<path fill="#fa9857" d="M1231.3 544.2H1262.4V559.9H1231.3Z"/>
<path fill="#fa9857" d="M1215.9 559.5H1247V575.3H1215.9Z"/>
<path fill="#fa9857" d="M1185.2 574.9H1216.3V590.6H1185.2Z"/>
<path fill="#fa9857" d="M1169.8 590.2H1201V606H1169.8Z"/>
<path fill="#fa9857" d="M1154.5 605.6H1185.6V621.4H1154.5Z"/>
<path fill="#fa9857" d="M1139.1 621H1170.2V636.7H1139.1Z"/>
<path fill="#fa9857" d="M1108.4 636.3H1139.5V652.1H1108.4Z"/>
<path fill="#fa9857" d="M1093 651.7H1124.2V667.4H1093Z"/>
<path fill="#fa9857" d="M1077.7 667H1108.8V682.8H1077.7Z"/>
<path fill="#fa9857" d="M1077.7 682.4H1093.4V698.2H1077.7Z"/>
<path fill="#fa9857" d="M1062.3 697.8H1093.4V713.5H1062.3Z"/>
<path fill="#fa9857" d="M1031.6 713.1H1078.1V728.9H1031.6Z"/>
<path fill="#fa9857" d="M1000.9 728.5H1078.1V744.2H1000.9Z"/>
<path fill="#fa9857" d="M1000.9 743.8H1047.4V759.6H1000.9Z"/>
<path fill="#fa9857" d="M954.8 759.2H1016.6V775H954.8Z"/>
<path fill="#fa9857" d="M140.7 774.6H156.5V790.3H140.7Z"/>
<path fill="#fa9857" d="M893.4 774.6H955.2V790.3H893.4Z"/>
<path fill="#fa9857" d="M831.9 789.9H878.4V805.7H831.9Z"/>
<path fill="#fa9857" d="M801.2 805.3H847.7V821H801.2Z"/>
<path fill="#fa9857" d="M156.1 820.6H171.8V836.4H156.1Z"/>
<path fill="#fa9857" d="M770.5 820.6H817V836.4H770.5Z"/>
<path fill="#fa9857" d="M770.5 836H801.6V851.8H770.5Z"/>
<path fill="#fa9857" d="M755.1 851.4H786.2V867.1H755.1Z"/>
<path fill="#fa9857" d="M709 866.7H786.2V882.5H709Z"/>
<path fill="#fa9857" d="M678.3 882.1H755.5V897.8H678.3Z"/>
<path fill="#fa9857" d="M663 897.4H709.4V913.2H663Z"/>
<path fill="#fa9857" d="M663 912.8H678.7V928.6H663Z"/>
<path fill="#fa9857" d="M463.3 928.2H479V943.9H463.3Z"/>
<path fill="#fa9857" d="M647.6 928.2H678.7V943.9H647.6Z"/>
<path fill="#fa9857" d="M647.6 943.5H663.4V959.3H647.6Z"/>
<path fill="#fa9857" d="M632.2 958.9H648V974.6H632.2Z"/>
<path fill="#fa9857" d="M616.9 974.2H632.6V1020.7H616.9Z"/>
<path fill="#fa9857" d="M616.9 1051H632.6V1082.2H616.9Z"/>
<path fill="#fa9857" d="M540.1 989.6H555.8V1005.4H540.1Z"/>
<path fill="#fa9857" d="M601.5 1020.3H617.3V1036.1H601.5Z"/>
<path fill="#f57547" d="M1615.3 237H1631V252.7H1615.3Z"/>
<path fill="#f57547" d="M1599.9 252.3H1638.4V268.1H1599.9Z"/>
<path fill="#f57547" d="M1599.9 528.8H1638.4V544.6H1599.9Z"/>
<path fill="#f57547" d="M1553.8 267.7H1638.4V283.4H1553.8Z"/>
<path fill="#f57547" d="M1523.1 283H1638.4V314.2H1523.1Z"/>
<path fill="#f57547" d="M1507.8 313.8H1631V329.5H1507.8Z"/>
<path fill="#f57547" d="M1507.8 329.1H1615.7V344.9H1507.8Z"/>
<path fill="#f57547" d="M1492.4 344.5H1538.9V360.2H1492.4Z"/>
<path fill="#f57547" d="M1553.8 344.5H1615.7V360.2H1553.8Z"/>
<path fill="#f57547" d="M1477 359.8H1523.5V375.6H1477Z"/>
<path fill="#f57547" d="M1569.2 359.8H1600.3V375.6H1569.2Z"/>
<path fill="#f57547" d="M1461.7 375.2H1508.2V391H1461.7Z"/>
<path fill="#f57547" d="M1569.2 375.2H1585V391H1569.2Z"/>
<path fill="#f57547" d="M1446.3 390.6H1462.1V406.3H1446.3Z"/>
<path fill="#f57547" d="M1615.3 390.6H1638.4V406.3H1615.3Z"/>
<path fill="#f57547" d="M1615.3 436.6H1638.4V452.4H1615.3Z"/>
<path fill="#f57547" d="M1431 405.9H1446.7V421.7H1431Z"/>
<path fill="#f57547" d="M1584.6 405.9H1638.4V437H1584.6Z"/>
<path fill="#f57547" d="M1584.6 544.2H1638.4V559.9H1584.6Z"/>
<path fill="#f57547" d="M1369.5 452H1385.3V467.8H1369.5Z"/>
<path fill="#f57547" d="M1630.6 452H1638.4V467.8H1630.6Z"/>
<path fill="#f57547" d="M1630.6 697.8H1638.4V728.9H1630.6Z"/>
<path fill="#f57547" d="M1354.2 467.4H1369.9V483.1H1354.2Z"/>
<path fill="#f57547" d="M1338.8 482.7H1354.6V498.5H1338.8Z"/>
<path fill="#f57547" d="M1323.4 498.1H1339.2V513.8H1323.4Z"/>
<path fill="#f57547" d="M1262 544.2H1293.1V559.9H1262Z"/>
<path fill="#f57547" d="M1246.6 559.5H1262.4V575.3H1246.6Z"/>
<path fill="#f57547" d="M1569.2 559.5H1638.4V590.6H1569.2Z"/>
<path fill="#f57547" d="M1215.9 574.9H1247V590.6H1215.9Z"/>
<path fill="#f57547" d="M1200.6 590.2H1231.7V606H1200.6Z"/>
<path fill="#f57547" d="M1185.2 605.6H1216.3V621.4H1185.2Z"/>
<path fill="#f57547" d="M1538.5 605.6H1569.6V621.4H1538.5Z"/>
<path fill="#f57547" d="M1169.8 621H1201V636.7H1169.8Z"/>
<path fill="#f57547" d="M1139.1 636.3H1170.2V652.1H1139.1Z"/>
<path fill="#f57547" d="M1123.8 651.7H1139.5V667.4H1123.8Z"/>
<path fill="#f57547" d="M1108.4 667H1124.2V682.8H1108.4Z"/>
<path fill="#f57547" d="M1093 682.4H1124.2V698.2H1093Z"/>
<path fill="#f57547" d="M1093 697.8H1108.8V713.5H1093Z"/>
<path fill="#f57547" d="M1077.7 713.1H1093.4V744.2H1077.7Z"/>
<path fill="#f57547" d="M1047 743.8H1078.1V759.6H1047Z"/>
<path fill="#f57547" d="M1016.2 759.2H1062.7V775H1016.2Z"/>
<path fill="#f57547" d="M954.8 774.6H970.6V790.3H954.8Z"/>
<path fill="#f57547" d="M985.5 774.6H1001.3V790.3H985.5Z"/>
<path fill="#f57547" d="M140.7 789.9H156.5V805.7H140.7Z"/>
<path fill="#f57547" d="M878 789.9H909.1V805.7H878Z"/>
<path fill="#f57547" d="M847.3 805.3H878.4V821H847.3Z"/>
<path fill="#f57547" d="M816.6 820.6H847.7V836.4H816.6Z"/>
<path fill="#f57547" d="M801.2 836H847.7V851.8H801.2Z"/>
<path fill="#f57547" d="M785.8 851.4H847.7V882.5H785.8Z"/>
<path fill="#f57547" d="M294.3 866.7H310.1V882.5H294.3Z"/>
<path fill="#f57547" d="M755.1 882.1H801.6V897.8H755.1Z"/>
<path fill="#f57547" d="M816.6 882.1H832.3V897.8H816.6Z"/>
<path fill="#f57547" d="M709 897.4H786.2V913.2H709Z"/>
<path fill="#f57547" d="M371.1 912.8H386.9V928.6H371.1Z"/>
<path fill="#f57547" d="M678.3 912.8H786.2V928.6H678.3Z"/>
<path fill="#f57547" d="M447.9 928.2H463.7V943.9H447.9Z"/>
<path fill="#f57547" d="M678.3 928.2H724.8V943.9H678.3Z"/>
<path fill="#f57547" d="M494 943.5H509.8V959.3H494Z"/>
<path fill="#f57547" d="M663 943.5H694.1V959.3H663Z"/>
<path fill="#f57547" d="M509.4 958.9H525.1V974.6H509.4Z"/>
<path fill="#f57547" d="M647.6 958.9H678.7V974.6H647.6Z"/>
<path fill="#f57547" d="M524.7 974.2H540.5V990H524.7Z"/>
<path fill="#f57547" d="M632.2 974.2H663.4V1005.4H632.2Z"/>
<path fill="#f57547" d="M632.2 1005H648V1020.7H632.2Z"/>
<path fill="#f57547" d="M632.2 1051H648V1082.2H632.2Z"/>
<path fill="#f57547" d="M555.4 1020.3H571.2V1036.1H555.4Z"/>
<path fill="#f57547" d="M616.9 1020.3H648V1036.1H616.9Z"/>
<path fill="#f57547" d="M570.8 1035.7H586.6V1051.4H570.8Z"/>
<path fill="#f57547" d="M616.9 1035.7H632.6V1051.4H616.9Z"/>
<path fill="#e85b48" d="M1630.6 313.8H1638.4V329.5H1630.6Z"/>
<path fill="#e85b48" d="M1615.3 329.1H1638.4V360.2H1615.3Z"/>
<path fill="#e85b48" d="M1538.5 344.5H1554.2V360.2H1538.5Z"/>
<path fill="#e85b48" d="M1523.1 359.8H1569.6V375.6H1523.1Z"/>
<path fill="#e85b48" d="M1599.9 359.8H1638.4V375.6H1599.9Z"/>
<path fill="#e85b48" d="M1599.9 651.7H1638.4V667.4H1599.9Z"/>
<path fill="#e85b48" d="M1507.8 375.2H1569.6V391H1507.8Z"/>
<path fill="#e85b48" d="M1507.8 574.9H1569.6V590.6H1507.8Z"/>
<path fill="#e85b48" d="M1584.6 375.2H1638.4V391H1584.6Z"/>
<path fill="#e85b48" d="M1584.6 667H1638.4V698.2H1584.6Z"/>
<path fill="#e85b48" d="M1461.7 390.6H1615.7V406.3H1461.7Z"/>
<path fill="#e85b48" d="M1446.3 405.9H1585V421.7H1446.3Z"/>
<path fill="#e85b48" d="M1415.6 421.3H1492.8V437H1415.6Z"/>
<path fill="#e85b48" d="M1538.5 421.3H1585V437H1538.5Z"/>
<path fill="#e85b48" d="M1400.2 436.6H1416V452.4H1400.2Z"/>
<path fill="#e85b48" d="M1431 436.6H1477.4V452.4H1431Z"/>
<path fill="#e85b48" d="M1523.1 436.6H1615.7V452.4H1523.1Z"/>
<path fill="#e85b48" d="M1384.9 452H1400.6V467.8H1384.9Z"/>
<path fill="#e85b48" d="M1431 452H1446.7V467.8H1431Z"/>
<path fill="#e85b48" d="M1523.1 452H1631V467.8H1523.1Z"/>
<path fill="#e85b48" d="M1369.5 467.4H1385.3V483.1H1369.5Z"/>
<path fill="#e85b48" d="M1523.1 467.4H1638.4V513.8H1523.1Z"/>
<path fill="#e85b48" d="M1354.2 482.7H1369.9V498.5H1354.2Z"/>
<path fill="#e85b48" d="M1338.8 498.1H1354.6V513.8H1338.8Z"/>
<path fill="#e85b48" d="M1308.1 513.4H1339.2V529.2H1308.1Z"/>
<path fill="#e85b48" d="M1507.8 513.4H1638.4V529.2H1507.8Z"/>
<path fill="#e85b48" d="M1507.8 590.2H1638.4V606H1507.8Z"/>
<path fill="#e85b48" d="M1292.7 528.8H1308.5V544.6H1292.7Z"/>
<path fill="#e85b48" d="M1507.8 528.8H1600.3V544.6H1507.8Z"/>
<path fill="#e85b48" d="M1492.4 544.2H1585V559.9H1492.4Z"/>
<path fill="#e85b48" d="M1262 559.5H1293.1V575.3H1262Z"/>
<path fill="#e85b48" d="M1492.4 559.5H1569.6V575.3H1492.4Z"/>
<path fill="#e85b48" d="M1246.6 574.9H1262.4V590.6H1246.6Z"/>
<path fill="#e85b48" d="M1231.3 590.2H1262.4V606H1231.3Z"/>
<path fill="#e85b48" d="M1215.9 605.6H1231.7V621.4H1215.9Z"/>
<path fill="#e85b48" d="M1477 605.6H1538.9V621.4H1477Z"/>
<path fill="#e85b48" d="M1569.2 605.6H1638.4V621.4H1569.2Z"/>
<path fill="#e85b48" d="M1200.6 621H1216.3V636.7H1200.6Z"/>
<path fill="#e85b48" d="M1477 621H1638.4V636.7H1477Z"/>
<path fill="#e85b48" d="M1169.8 636.3H1201V652.1H1169.8Z"/>
<path fill="#e85b48" d="M1461.7 636.3H1638.4V652.1H1461.7Z"/>
<path fill="#e85b48" d="M1139.1 651.7H1170.2V667.4H1139.1Z"/>
<path fill="#e85b48" d="M1446.3 651.7H1569.6V667.4H1446.3Z"/>
<path fill="#e85b48" d="M1123.8 667H1154.9V682.8H1123.8Z"/>
<path fill="#e85b48" d="M1446.3 667H1554.2V682.8H1446.3Z"/>
<path fill="#e85b48" d="M1123.8 682.4H1139.5V698.2H1123.8Z"/>
<path fill="#e85b48" d="M1431 682.4H1538.9V698.2H1431Z"/>
<path fill="#e85b48" d="M1108.4 697.8H1124.2V713.5H1108.4Z"/>
<path fill="#e85b48" d="M1415.6 697.8H1538.9V728.9H1415.6Z"/>
<path fill="#e85b48" d="M1584.6 697.8H1631V713.5H1584.6Z"/>
<path fill="#e85b48" d="M1093 713.1H1108.8V744.2H1093Z"/>
<path fill="#e85b48" d="M1569.2 713.1H1631V728.9H1569.2Z"/>
<path fill="#e85b48" d="M1415.6 728.5H1638.4V759.6H1415.6Z"/>
<path fill="#e85b48" d="M102 743.8H110.4V759.6H102Z"/>
<path fill="#e85b48" d="M1077.7 743.8H1093.4V759.6H1077.7Z"/>
<path fill="#e85b48" d="M1062.3 759.2H1078.1V775H1062.3Z"/>
<path fill="#e85b48" d="M1415.6 759.2H1631V775H1415.6Z"/>
<path fill="#e85b48" d="M970.2 774.6H985.9V790.3H970.2Z"/>
<path fill="#e85b48" d="M1000.9 774.6H1062.7V790.3H1000.9Z"/>
<path fill="#e85b48" d="M1415.6 774.6H1615.7V790.3H1415.6Z"/>
<path fill="#e85b48" d="M908.7 789.9H970.6V805.7H908.7Z"/>
<path fill="#e85b48" d="M1431 789.9H1585V805.7H1431Z"/>
<path fill="#e85b48" d="M140.7 805.3H156.5V821H140.7Z"/>
<path fill="#e85b48" d="M878 805.3H909.1V821H878Z"/>
<path fill="#e85b48" d="M1461.7 805.3H1569.6V821H1461.7Z"/>
<path fill="#e85b48" d="M847.3 820.6H893.8V836.4H847.3Z"/>
<path fill="#e85b48" d="M1461.7 820.6H1554.2V851.8H1461.7Z"/>
<path fill="#e85b48" d="M156.1 836H171.8V851.8H156.1Z"/>
<path fill="#e85b48" d="M847.3 836H878.4V851.8H847.3Z"/>
<path fill="#e85b48" d="M263.6 851.4H279.4V867.1H263.6Z"/>
<path fill="#e85b48" d="M847.3 851.4H863V882.5H847.3Z"/>
<path fill="#e85b48" d="M1492.4 851.4H1554.2V867.1H1492.4Z"/>
<path fill="#e85b48" d="M1507.8 866.7H1523.5V882.5H1507.8Z"/>
<path fill="#e85b48" d="M801.2 882.1H817V897.8H801.2Z"/>
<path fill="#e85b48" d="M831.9 882.1H847.7V897.8H831.9Z"/>
<path fill="#e85b48" d="M785.8 897.4H832.3V913.2H785.8Z"/>
<path fill="#e85b48" d="M785.8 912.8H817V928.6H785.8Z"/>
<path fill="#e85b48" d="M724.4 928.2H801.6V943.9H724.4Z"/>
<path fill="#e85b48" d="M693.7 943.5H755.5V959.3H693.7Z"/>
<path fill="#e85b48" d="M678.3 958.9H740.2V974.6H678.3Z"/>
<path fill="#e85b48" d="M663 974.2H709.4V990H663Z"/>
<path fill="#e85b48" d="M663 989.6H694.1V1005.4H663Z"/>
<path fill="#e85b48" d="M540.1 1005H555.8V1020.7H540.1Z"/>
<path fill="#e85b48" d="M647.6 1005H694.1V1036.1H647.6Z"/>
<path fill="#e85b48" d="M632.2 1035.7H678.7V1051.4H632.2Z"/>
<path fill="#e85b48" d="M586.2 1051H601.9V1066.8H586.2Z"/>
<path fill="#e85b48" d="M647.6 1051H663.4V1082.2H647.6Z"/>
<path fill="#e85b48" d="M632.2 1081.8H663.4V1097.5H632.2Z"/>
<path fill="#d7414e" d="M1492.4 421.3H1538.9V437H1492.4Z"/>
<path fill="#d7414e" d="M1415.6 436.6H1431.4V452.4H1415.6Z"/>
<path fill="#d7414e" d="M1477 436.6H1523.5V452.4H1477Z"/>
<path fill="#d7414e" d="M1400.2 452H1431.4V467.8H1400.2Z"/>
<path fill="#d7414e" d="M1400.2 682.4H1431.4V698.2H1400.2Z"/>
<path fill="#d7414e" d="M1446.3 452H1523.5V467.8H1446.3Z"/>
<path fill="#d7414e" d="M1384.9 467.4H1523.5V483.1H1384.9Z"/>
<path fill="#d7414e" d="M1369.5 482.7H1523.5V498.5H1369.5Z"/>
<path fill="#d7414e" d="M1354.2 498.1H1523.5V513.8H1354.2Z"/>
<path fill="#d7414e" d="M1338.8 513.4H1508.2V529.2H1338.8Z"/>
<path fill="#d7414e" d="M1308.1 528.8H1508.2V544.6H1308.1Z"/>
<path fill="#d7414e" d="M1292.7 544.2H1339.2V559.9H1292.7Z"/>
<path fill="#d7414e" d="M1354.2 544.2H1369.9V559.9H1354.2Z"/>
<path fill="#d7414e" d="M1384.9 544.2H1492.8V559.9H1384.9Z"/>
<path fill="#d7414e" d="M1292.7 559.5H1308.5V575.3H1292.7Z"/>
<path fill="#d7414e" d="M1431 559.5H1492.8V575.3H1431Z"/>
<path fill="#d7414e" d="M1262 574.9H1293.1V606H1262Z"/>
<path fill="#d7414e" d="M1431 574.9H1508.2V606H1431Z"/>
<path fill="#d7414e" d="M1231.3 605.6H1262.4V621.4H1231.3Z"/>
<path fill="#d7414e" d="M1431 605.6H1477.4V621.4H1431Z"/>
<path fill="#d7414e" d="M1215.9 621H1247V636.7H1215.9Z"/>
<path fill="#d7414e" d="M1415.6 621H1477.4V636.7H1415.6Z"/>
<path fill="#d7414e" d="M1200.6 636.3H1231.7V652.1H1200.6Z"/>
<path fill="#d7414e" d="M1415.6 636.3H1462.1V652.1H1415.6Z"/>
<path fill="#d7414e" d="M1169.8 651.7H1216.3V667.4H1169.8Z"/>
<path fill="#d7414e" d="M1415.6 651.7H1446.7V667.4H1415.6Z"/>
<path fill="#d7414e" d="M1569.2 651.7H1600.3V667.4H1569.2Z"/>
<path fill="#d7414e" d="M1154.5 667H1201V682.8H1154.5Z"/>
<path fill="#d7414e" d="M1400.2 667H1446.7V682.8H1400.2Z"/>
<path fill="#d7414e" d="M1400.2 882.1H1446.7V897.8H1400.2Z"/>
<path fill="#d7414e" d="M1553.8 667H1585V682.8H1553.8Z"/>
<path fill="#d7414e" d="M1139.1 682.4H1185.6V698.2H1139.1Z"/>
<path fill="#d7414e" d="M1538.5 682.4H1585V713.5H1538.5Z"/>
<path fill="#d7414e" d="M1123.8 697.8H1170.2V713.5H1123.8Z"/>
<path fill="#d7414e" d="M1384.9 697.8H1416V790.3H1384.9Z"/>
<path fill="#d7414e" d="M1108.4 713.1H1154.9V728.9H1108.4Z"/>
<path fill="#d7414e" d="M1538.5 713.1H1569.6V728.9H1538.5Z"/>
<path fill="#d7414e" d="M1108.4 728.5H1139.5V744.2H1108.4Z"/>
<path fill="#d7414e" d="M1093 743.8H1124.2V759.6H1093Z"/>
<path fill="#d7414e" d="M125.4 759.2H141.1V805.7H125.4Z"/>
<path fill="#d7414e" d="M1077.7 759.2H1108.8V775H1077.7Z"/>
<path fill="#d7414e" d="M1630.6 759.2H1638.4V775H1630.6Z"/>
<path fill="#d7414e" d="M1062.3 774.6H1078.1V790.3H1062.3Z"/>
<path fill="#d7414e" d="M1615.3 774.6H1638.4V790.3H1615.3Z"/>
<path fill="#d7414e" d="M1615.3 851.4H1638.4V867.1H1615.3Z"/>
<path fill="#d7414e" d="M970.2 789.9H1032V805.7H970.2Z"/>
<path fill="#d7414e" d="M1384.9 789.9H1431.4V805.7H1384.9Z"/>
<path fill="#d7414e" d="M1584.6 789.9H1638.4V805.7H1584.6Z"/>
<path fill="#d7414e" d="M908.7 805.3H924.5V821H908.7Z"/>
<path fill="#d7414e" d="M970.2 805.3H985.9V821H970.2Z"/>
<path fill="#d7414e" d="M1384.9 805.3H1462.1V821H1384.9Z"/>
<path fill="#d7414e" d="M1569.2 805.3H1638.4V821H1569.2Z"/>
<path fill="#d7414e" d="M140.7 820.6H156.5V836.4H140.7Z"/>
<path fill="#d7414e" d="M893.4 820.6H909.1V836.4H893.4Z"/>
<path fill="#d7414e" d="M1400.2 820.6H1462.1V851.8H1400.2Z"/>
<path fill="#d7414e" d="M1553.8 820.6H1638.4V851.8H1553.8Z"/>
<path fill="#d7414e" d="M878 836H893.8V851.8H878Z"/>
<path fill="#d7414e" d="M171.4 851.4H187.2V867.1H171.4Z"/>
<path fill="#d7414e" d="M862.6 851.4H893.8V867.1H862.6Z"/>
<path fill="#d7414e" d="M1415.6 851.4H1492.8V867.1H1415.6Z"/>
<path fill="#d7414e" d="M1553.8 851.4H1600.3V867.1H1553.8Z"/>
<path fill="#d7414e" d="M862.6 866.7H878.4V882.5H862.6Z"/>
<path fill="#d7414e" d="M1400.2 866.7H1508.2V882.5H1400.2Z"/>
<path fill="#d7414e" d="M1523.1 866.7H1569.6V882.5H1523.1Z"/>
<path fill="#d7414e" d="M847.3 882.1H878.4V897.8H847.3Z"/>
<path fill="#d7414e" d="M1461.7 882.1H1569.6V897.8H1461.7Z"/>
<path fill="#d7414e" d="M831.9 897.4H863V913.2H831.9Z"/>
<path fill="#d7414e" d="M1400.2 897.4H1416V913.2H1400.2Z"/>
<path fill="#d7414e" d="M1477 897.4H1554.2V913.2H1477Z"/>
<path fill="#d7414e" d="M816.6 912.8H847.7V928.6H816.6Z"/>
<path fill="#d7414e" d="M1507.8 912.8H1569.6V928.6H1507.8Z"/>
<path fill="#d7414e" d="M801.2 928.2H832.3V943.9H801.2Z"/>
<path fill="#d7414e" d="M755.1 943.5H801.6V959.3H755.1Z"/>
<path fill="#d7414e" d="M739.8 958.9H786.2V974.6H739.8Z"/>
<path fill="#d7414e" d="M709 974.2H770.9V990H709Z"/>
<path fill="#d7414e" d="M693.7 989.6H755.5V1036.1H693.7Z"/>
<path fill="#d7414e" d="M678.3 1035.7H740.2V1051.4H678.3Z"/>
<path fill="#d7414e" d="M663 1051H724.8V1066.8H663Z"/>
<path fill="#d7414e" d="M601.5 1066.4H617.3V1082.2H601.5Z"/>
<path fill="#d7414e" d="M663 1066.4H709.4V1082.2H663Z"/>
<path fill="#d7414e" d="M663 1081.8H694.1V1097.5H663Z"/>
<path fill="#bc2249" d="M1338.8 544.2H1354.6V559.9H1338.8Z"/>
<path fill="#bc2249" d="M1369.5 544.2H1385.3V559.9H1369.5Z"/>
<path fill="#bc2249" d="M1369.5 989.6H1385.3V1005.4H1369.5Z"/>
<path fill="#bc2249" d="M1308.1 559.5H1431.4V575.3H1308.1Z"/>
<path fill="#bc2249" d="M1292.7 574.9H1431.4V606H1292.7Z"/>
<path fill="#bc2249" d="M1262 605.6H1354.6V621.4H1262Z"/>
<path fill="#bc2249" d="M1369.5 605.6H1431.4V621.4H1369.5Z"/>
<path fill="#bc2249" d="M1246.6 621H1323.8V636.7H1246.6Z"/>
<path fill="#bc2249" d="M1369.5 621H1416V636.7H1369.5Z"/>
<path fill="#bc2249" d="M1231.3 636.3H1293.1V652.1H1231.3Z"/>
<path fill="#bc2249" d="M1354.2 636.3H1416V667.4H1354.2Z"/>
<path fill="#bc2249" d="M1215.9 651.7H1262.4V667.4H1215.9Z"/>
<path fill="#bc2249" d="M1277.4 651.7H1293.1V667.4H1277.4Z"/>
<path fill="#bc2249" d="M1200.6 667H1231.7V682.8H1200.6Z"/>
<path fill="#bc2249" d="M1338.8 667H1400.6V698.2H1338.8Z"/>
<path fill="#bc2249" d="M1338.8 820.6H1400.6V851.8H1338.8Z"/>
<path fill="#bc2249" d="M1338.8 866.7H1400.6V882.5H1338.8Z"/>
<path fill="#bc2249" d="M1185.2 682.4H1216.3V698.2H1185.2Z"/>
<path fill="#bc2249" d="M1169.8 697.8H1216.3V713.5H1169.8Z"/>
<path fill="#bc2249" d="M1338.8 697.8H1385.3V744.2H1338.8Z"/>
<path fill="#bc2249" d="M1154.5 713.1H1170.2V728.9H1154.5Z"/>
<path fill="#bc2249" d="M1139.1 728.5H1154.9V744.2H1139.1Z"/>
<path fill="#bc2249" d="M1123.8 743.8H1154.9V759.6H1123.8Z"/>
<path fill="#bc2249" d="M1354.2 743.8H1385.3V821H1354.2Z"/>
<path fill="#bc2249" d="M110 759.2H125.8V805.7H110Z"/>
<path fill="#bc2249" d="M1108.4 759.2H1170.2V775H1108.4Z"/>
<path fill="#bc2249" d="M1077.7 774.6H1154.9V790.3H1077.7Z"/>
<path fill="#bc2249" d="M1031.6 789.9H1124.2V805.7H1031.6Z"/>
<path fill="#bc2249" d="M125.4 805.3H141.1V836.4H125.4Z"/>
<path fill="#bc2249" d="M924.1 805.3H955.2V821H924.1Z"/>
<path fill="#bc2249" d="M985.5 805.3H1001.3V821H985.5Z"/>
<path fill="#bc2249" d="M1016.2 805.3H1108.8V821H1016.2Z"/>
<path fill="#bc2249" d="M908.7 820.6H939.8V836.4H908.7Z"/>
<path fill="#bc2249" d="M1016.2 820.6H1078.1V836.4H1016.2Z"/>
<path fill="#bc2249" d="M140.7 836H156.5V851.8H140.7Z"/>
<path fill="#bc2249" d="M893.4 836H924.5V867.1H893.4Z"/>
<path fill="#bc2249" d="M156.1 851.4H171.8V867.1H156.1Z"/>
<path fill="#bc2249" d="M156.1 1020.3H171.8V1036.1H156.1Z"/>
<path fill="#bc2249" d="M1338.8 851.4H1416V867.1H1338.8Z"/>
<path fill="#bc2249" d="M1599.9 851.4H1615.7V867.1H1599.9Z"/>
<path fill="#bc2249" d="M186.8 866.7H294.7V882.5H186.8Z"/>
<path fill="#bc2249" d="M878 866.7H909.1V897.8H878Z"/>
<path fill="#bc2249" d="M1569.2 866.7H1638.4V897.8H1569.2Z"/>
<path fill="#bc2249" d="M1569.2 912.8H1638.4V928.6H1569.2Z"/>
<path fill="#bc2249" d="M248.2 882.1H325.4V897.8H248.2Z"/>
<path fill="#bc2249" d="M1323.4 882.1H1400.6V913.2H1323.4Z"/>
<path fill="#bc2249" d="M1446.3 882.1H1462.1V897.8H1446.3Z"/>
<path fill="#bc2249" d="M248.2 897.4H279.4V928.6H248.2Z"/>
<path fill="#bc2249" d="M325 897.4H356.2V913.2H325Z"/>
<path fill="#bc2249" d="M862.6 897.4H893.8V913.2H862.6Z"/>
<path fill="#bc2249" d="M1415.6 897.4H1477.4V913.2H1415.6Z"/>
<path fill="#bc2249" d="M1553.8 897.4H1638.4V913.2H1553.8Z"/>
<path fill="#bc2249" d="M355.8 912.8H371.5V928.6H355.8Z"/>
<path fill="#bc2249" d="M847.3 912.8H878.4V928.6H847.3Z"/>
<path fill="#bc2249" d="M1308.1 912.8H1508.2V928.6H1308.1Z"/>
<path fill="#bc2249" d="M263.6 928.2H279.4V943.9H263.6Z"/>
<path fill="#bc2249" d="M355.8 928.2H402.2V943.9H355.8Z"/>
<path fill="#bc2249" d="M831.9 928.2H878.4V943.9H831.9Z"/>
<path fill="#bc2249" d="M1308.1 928.2H1585V943.9H1308.1Z"/>
<path fill="#bc2249" d="M1615.3 928.2H1638.4V943.9H1615.3Z"/>
<path fill="#bc2249" d="M371.1 943.5H402.2V959.3H371.1Z"/>
<path fill="#bc2249" d="M432.6 943.5H494.4V959.3H432.6Z"/>
<path fill="#bc2249" d="M801.2 943.5H863V959.3H801.2Z"/>
<path fill="#bc2249" d="M1308.1 943.5H1323.8V959.3H1308.1Z"/>
<path fill="#bc2249" d="M1308.1 1158.6H1323.8V1174.3H1308.1Z"/>
<path fill="#bc2249" d="M1338.8 943.5H1615.7V959.3H1338.8Z"/>
<path fill="#bc2249" d="M1630.6 943.5H1638.4V959.3H1630.6Z"/>
<path fill="#bc2249" d="M263.6 958.9H310.1V974.6H263.6Z"/>
<path fill="#bc2249" d="M355.8 958.9H386.9V974.6H355.8Z"/>
<path fill="#bc2249" d="M432.6 958.9H509.8V974.6H432.6Z"/>
<path fill="#bc2249" d="M785.8 958.9H847.7V974.6H785.8Z"/>
<path fill="#bc2249" d="M1323.4 958.9H1446.7V974.6H1323.4Z"/>
<path fill="#bc2249" d="M1477 958.9H1615.7V974.6H1477Z"/>
<path fill="#bc2249" d="M202.2 974.2H279.4V990H202.2Z"/>
<path fill="#bc2249" d="M401.8 974.2H525.1V990H401.8Z"/>
<path fill="#bc2249" d="M770.5 974.2H847.7V990H770.5Z"/>
<path fill="#bc2249" d="M1369.5 974.2H1446.7V990H1369.5Z"/>
<path fill="#bc2249" d="M1507.8 974.2H1554.2V990H1507.8Z"/>
<path fill="#bc2249" d="M171.4 989.6H187.2V1020.7H171.4Z"/>
<path fill="#bc2249" d="M217.5 989.6H279.4V1005.4H217.5Z"/>
<path fill="#bc2249" d="M447.9 989.6H540.5V1005.4H447.9Z"/>
<path fill="#bc2249" d="M755.1 989.6H832.3V1005.4H755.1Z"/>
<path fill="#bc2249" d="M1400.2 989.6H1431.4V1005.4H1400.2Z"/>
<path fill="#bc2249" d="M1507.8 989.6H1523.5V1005.4H1507.8Z"/>
<path fill="#bc2249" d="M217.5 1005H233.3V1020.7H217.5Z"/>
<path fill="#bc2249" d="M478.6 1005H540.5V1020.7H478.6Z"/>
<path fill="#bc2249" d="M755.1 1005H817V1020.7H755.1Z"/>
<path fill="#bc2249" d="M494 1020.3H555.8V1036.1H494Z"/>
<path fill="#bc2249" d="M755.1 1020.3H801.6V1036.1H755.1Z"/>
<path fill="#bc2249" d="M555.4 1035.7H571.2V1051.4H555.4Z"/>
<path fill="#bc2249" d="M739.8 1035.7H786.2V1051.4H739.8Z"/>
<path fill="#bc2249" d="M724.4 1051H755.5V1066.8H724.4Z"/>
<path fill="#bc2249" d="M709 1066.4H740.2V1082.2H709Z"/>
<path fill="#bc2249" d="M616.9 1081.8H632.6V1097.5H616.9Z"/>
<path fill="#bc2249" d="M693.7 1081.8H724.8V1097.5H693.7Z"/>
<path fill="#bc2249" d="M647.6 1097.1H678.7V1112.9H647.6Z"/>
<path fill="#bc2249" d="M1292.7 1173.9H1339.2V1189.7H1292.7Z"/>
<path fill="#bc2249" d="M1308.1 1189.3H1354.6V1205H1308.1Z"/>
</g>
<g stroke="#c4c4c4" stroke-opacity="0.5" stroke-width="1.1" stroke-dasharray="4.4 2.2" fill="none">
<path d="M410.5 1366V137"/>
<path d="M717.5 1366V137"/>
<path d="M1024.5 1366V137"/>
<path d="M1331.5 1366V137"/>
<path d="M102 1212.5H1638"/>
<path d="M102 1059H1638"/>
<path d="M102 905.5H1638"/>
<path d="M102 752H1638"/>
<path d="M102 598.5H1638"/>
<path d="M102 445H1638"/>
<path d="M102 291.5H1638"/>
</g>
<path fill="none" stroke="#000" stroke-width="0.9" stroke-linejoin="round" d="M191.0 569.3 177.2 569.3 158.8 564.7 134.2 555.5 125.0 540.2 118.9 521.8 109.6 512.5 94.3 497.2 M341.4 919.3 344.5 905.5 343.0 896.3 356.8 872.7 396.7 872.7 398.2 862.5 390.5 856.4 376.7 844.1 366.0 836.4 380.4 836.4 380.4 818.9 436.6 818.9 M436.6 818.9 435.1 877.9 444.3 877.9 M436.6 818.9 436.6 813.4 445.8 816.5 453.5 807.3 462.7 799.6 M462.7 884.0 450.4 894.8 436.6 902.4 435.1 917.8 430.5 923.3 M430.5 923.3 424.3 928.5 407.4 943.9 M430.5 923.3 444.3 930.1 456.6 936.8 470.4 937.7 479.6 942.3 478.0 954.6 M493.4 966.9 505.7 959.2 511.8 943.9 530.2 936.2 542.5 939.3 564.0 917.8 576.3 914.7 597.8 911.6 620.8 905.5 M542.5 1025.2 564.0 1028.3 573.2 1026.8 588.6 1034.4 603.9 1030.8 M628.5 1117.3 630.0 1095.8 634.6 1089.7 628.5 1075.9 639.2 1072.8 M782.0 1143.4 792.7 1135.8 803.5 1121.9 795.8 1105.0 798.9 1099.5 M970.8 761.2 972.3 776.6 966.2 793.4 970.8 810.3 970.8 813.4 M752.8 1323.0 778.9 1338.4 797.3 1353.7 831.1 1353.7 852.6 1364.5 M1336.1 1111.2 1310.0 1135.8 1322.3 1148.0 1296.2 1160.3 1296.2 1175.7 1288.5 1183.3 1308.5 1206.4 1331.5 1212.5 1332.1 1227.8 1345.3 1244.7 1336.1 1255.5 1337.6 1277.0 1332.1 1295.4 1340.7 1309.2 1362.2 1326.1 1377.5 1326.1 1392.9 1320.0 1414.4 1304.6 1439.0 1306.1 1454.3 1295.4 1457.4 1307.7 1481.9 1289.2 1497.3 1294.5 1515.7 1255.5 1501.9 1227.8 1501.9 1212.5 1515.7 1189.5 M1419.0 1183.3 1414.4 1203.3 1402.1 1215.6 1396.0 1224.8 1391.4 1243.2 1405.2 1263.2 1414.4 1263.2 1439.0 1306.1 M1515.7 1255.5 1546.4 1295.4 1558.7 1289.2 1586.3 1243.2 M1308.5 1206.4 1288.5 1227.8 1247.1 1243.2 1242.5 1253.9 1208.7 1244.7 1202.6 1240.1 1190.3 1264.7 1208.7 1289.2 1227.1 1298.5 1208.7 1306.1 1178.0 1330.7 1159.6 1343.0 1138.1 1343.0 1121.2 1328.2 1113.5 1313.8 1098.2 1280.0 1107.4 1261.6 1090.5 1227.8 1092.0 1203.3 1104.3 1181.8 1090.5 1172.6 1042.9 1178.7 1021.4 1151.1 1003.0 1148.0 963.1 1151.1 949.3 1137.3 953.9 1120.4 950.8 1108.1 938.5 1086.6 921.7 1083.6 935.5 1045.2 947.8 1025.2 964.6 1009.3 M1121.2 1328.2 1113.5 1329.2 1104.3 1301.5 1089.0 1312.3 1029.1 1313.8 1029.1 1333.2 1049.1 1335.3 1042.9 1347.6 1023.0 1349.1 1023.0 1372.1"/>
<path fill="none" stroke="#000" stroke-width="2.2" stroke-linejoin="round" stroke-linecap="round" d="M180 590 177.5 597.5 175 606.2 173.1 617.5 171.9 630 171.2 642.5 171.5 655 171.2 662.5 168.1 670 169.4 680 171.9 690 176.2 697.5 182.5 703.1 185 704.4 183.8 708.8 181.2 710 182.5 715 186.2 722.5 189.4 730 195 736.2 201.2 742.5 207.5 750 212.5 757.5 215 765 M386.9 770 388.1 763.8 390 758.8 393.8 753.8 395 746.2 395 737.5 395.6 730 397.5 722.5 401.2 717.5 407.5 713.8 415 711.2 425 709.8 435 708.1 445 706.9 450 705 455 703.1 462.5 702.5 466.2 701.2 472.5 701.9 480 703.1 487.5 703.8 493.8 702.5 498.8 701.2 502.5 703.1 506.2 706.2 508.1 711.2 508.8 716.2 506.2 722.5 502.5 728.8 497.5 733.8 492.5 738.8 488.8 745 487.5 751.2 486.2 756.2 482.5 760 481.2 763.8 487.5 764.4 485 767.5 483.8 770 M501.2 740 503.8 735.6 508.1 733.8 508.8 735.6 505 741.2 502.5 743.1Z M670 420 675 435 682.5 455 692.5 477.5 702.5 500 711.2 522.5 715 545 712.5 565 707.5 582.5 700 592.5 687.5 593.8 681.2 590 680 580 675 570 667.5 562.5 660 555 652.5 545 645 532.5 637.5 522.5 631.2 512.5 630 502.5 635 492.5 636.2 480 630 467.5 620 455 607.5 445 592.5 441.2 580 445 570 452.5 M570 695 577.5 685 585 675 597.5 667.5 615 660 635 655 655 653.8 675 655 695 658.8 710 662.5 725 666.2 735 672.5 750 677.5 767.5 685 782.5 692.5 795 700 807.5 707.5 820 712.5 835 716.2 847.5 717.5 852.5 725 865 728.8 880 735 892.5 740 897.5 745 887.5 750 870 751.2 857.5 753.8 840 752.5 822.5 752.5 807.5 753.8 790 755 795 745 805 735 800 727.5 785 722.5 770 720 762.5 707.5 755 702.5 740 697.5 722.5 692.5 707.5 690 695 685 680 682.5 670 680 662.5 675 665 670 655 668.8 640 668.8 625 672.5 610 680 595 687.5 582.5 691.2 570 695 M620 695 630 692.5 636.2 697.5 635 703.8 627.5 706.2 620 702.5Z M747.5 546.2 760 543.8 780 545 777.5 547.5 765 548.8 755 551.2Z M780 538.8 792.5 540 802.5 547.5 807.5 556.2 805 567.5 800 565 802.5 555 795 545 785 541.2 M772.5 592.5 777.5 592.5 785 605 782.5 617.5 790 622.5 792.5 635 785 636.2 780 622.5 770 612.5 770 602.5Z M816.2 582.5 822.5 582.5 832.5 592.5 835 607.5 831.2 606.2 830 595 820 586.2 M847.5 607.5 855 620 860 623.8 M860 640 866.2 653.8 873.8 661.2 M838.8 640 847.5 645 M892.5 665 902.5 668.8 905 675 895 682.5 M912.5 717.5 925 713.8 931.2 712.5 927.5 720 915 722.5Z M927.5 676.2 937.5 680 M952.5 695 957.5 696.2 M965 692.5 972.5 696.2 M191.0 569.3 187.9 552.5 183.9 534.0 189.5 514.1 200.2 500.3 214.0 491.0 232.4 482.5 250.9 473.6 261.6 465.0 269.3 460.4 278.5 456.7 292.3 454.2 309.2 451.8 327.6 456.7 343.0 458.8 353.7 460.4 361.4 454.2 370.6 466.5 384.4 472.6 398.2 469.6 409.0 469.6 413.6 465.0 422.8 468.0 430.5 475.7 438.1 471.1 432.0 463.4 424.3 455.7 430.5 449.6 425.9 441.9 415.1 440.4 428.9 435.8 444.3 432.7 459.6 433.3 470.4 437.3 471.9 425.0 476.5 435.8 487.2 435.8 502.6 434.3 518.0 432.7 530.2 434.3 541.0 440.4 551.7 451.1 554.8 454.8 564.0 456.7 570.1 452.7 M673.0 420.4 676.1 405.1 683.7 389.7 691.4 380.5 700.6 372.9 714.4 365.2 720.6 360.6 734.4 351.4 743.6 343.7 749.7 332.9 762.0 326.2 778.9 325.3 782.0 320.7 791.2 309.9 806.5 302.2 820.3 300.7 825.0 303.8 831.1 293.0 841.8 286.9 854.7 283.8 856.6 273.1 852.6 262.3 844.9 243.9 840.3 233.2 831.1 231.6 826.5 227.0 831.1 219.4 829.6 210.1 831.1 199.4 826.5 187.1 825.0 171.8 828.0 159.5 837.2 153.3 834.2 168.7 838.8 181.0 832.6 190.2 843.4 199.4 841.8 214.8 840.3 224.0 844.9 220.9 852.6 210.1 860.3 199.4 867.9 188.7 869.5 181.0 867.9 174.8 858.7 165.6 854.1 153.3 855.6 147.2 861.8 159.5 874.1 164.1 877.1 170.2 886.3 159.5 895.6 147.2 900.2 136.5 M214.9 764.9 223.2 776.6 229.4 787.3 250.9 791.9 263.1 798.0 273.9 808.2 287.7 805.7 303.1 800.2 321.5 799.6 330.7 794.4 349.1 791.9 364.4 799.6 372.1 795.0 364.4 788.8 373.7 782.7 382.9 776.6 388.4 771.0 M484.2 770.4 488.8 761.2 482.6 776.6 485.7 788.8 478.0 805.7 470.4 798.0 462.7 799.6 468.8 810.3 465.8 827.2 462.7 844.1 464.2 856.4 455.0 867.1 444.3 877.9 453.5 879.4 465.8 883.4 475.0 878.5 487.2 880.9 505.7 881.9 521.0 880.9 533.3 876.9 548.6 877.9 565.5 875.4 582.4 879.4 600.8 893.2 613.1 897.8 620.8 905.5 616.2 917.8 619.3 927.0 613.1 936.2 608.5 954.6 610.0 970.0 605.4 982.2 603.9 997.6 605.4 1009.9 599.3 1022.2 603.9 1030.8 613.1 1046.7 623.9 1059.0 636.1 1071.3 643.8 1079.0 653.0 1086.6 660.7 1091.2 674.5 1095.8 691.4 1092.8 705.2 1085.1 720.6 1079.0 731.3 1071.3 748.2 1075.9 763.5 1077.4 782.0 1092.8 795.8 1098.9 806.5 1111.2 812.7 1106.6 815.7 1121.9 817.3 1102.0 831.1 1091.2 844.9 1077.4 852.6 1068.2 854.1 1046.7 863.3 1037.5 875.6 1026.8 891.0 1028.3 895.6 1019.1 914.0 1020.0 932.4 1012.9 953.9 1000.7 964.6 989.9 983.1 983.8 990.7 994.5 984.6 1003.7 964.6 1009.3 973.8 1028.9 973.8 1040.6 961.6 1055.9 964.6 1074.3 976.9 1088.2 990.7 1080.5 992.3 1063.6 983.1 1046.7 978.4 1029.8 993.8 1022.2 1015.3 1016.0 1016.8 1000.7 1026.0 991.5 1030.6 1005.3 1032.2 1014.5 1046.0 1012.9 1061.3 1015.4 1073.6 1023.7 1079.8 1039.0 1089.0 1043.7 1116.6 1040.6 1138.1 1040.0 1147.3 1049.8 1168.8 1055.9 1187.2 1054.4 1199.5 1045.2 1217.9 1042.1 1202.6 1039.0 1230.2 1038.1 1254.8 1036.9 1273.2 1036.9 1260.9 1042.1 1242.5 1045.2 1248.6 1055.9 1264.0 1062.1 1282.4 1063.6 1300.8 1074.3 1305.4 1089.7 1300.8 1103.5 1322.3 1105.0 1336.1 1111.2 1356.1 1123.5 1374.5 1141.9 1379.1 1154.2 1389.8 1157.2 1408.2 1172.6 1419.0 1183.3 1439.0 1183.3 1457.4 1186.4 1480.4 1183.3 1503.4 1184.9 1515.7 1189.5 1531.0 1195.6 1549.5 1200.2 1567.9 1215.6 1583.2 1227.8 1590.9 1237.1 1604.7 1246.3 1609.3 1273.9 1617.0 1298.5 1629.3 1310.7 1641.6 1316.9 M97.4 844.1 118.9 853.3 143.4 859.4 164.9 871.7 186.4 877.3 207.9 884.6 226.3 882.5 244.7 873.3 260.1 868.7 281.6 871.7 293.8 879.4 312.3 893.2 327.6 907.0 341.4 919.3 358.3 933.1 373.7 938.3 392.1 938.7 407.4 943.9 416.6 950.6 432.0 953.1 447.3 959.8 462.7 961.7 476.5 960.8 484.2 954.6 490.3 966.9 485.7 968.4 496.5 980.7 511.8 993.0 527.2 1009.9 539.4 1022.2 544.0 1031.4 537.9 1043.7 542.5 1060.5 557.9 1066.7 567.1 1059.0 573.2 1068.2 588.6 1075.9 602.4 1086.6 607.0 1102.0 616.2 1108.1 622.3 1103.5 628.5 1111.2 637.7 1111.2 650.0 1112.7 665.3 1117.3 680.7 1131.1 691.4 1143.4 705.2 1141.9 717.5 1134.2 705.2 1117.3 714.4 1108.1 726.7 1098.9 732.8 1091.2 746.7 1089.7 763.5 1105.0 775.8 1109.7 769.7 1123.5 775.8 1135.8 783.5 1143.4 797.3 1157.2 794.2 1175.7 798.9 1194.1 794.2 1215.6 800.4 1240.1 806.5 1247.8 792.7 1267.8 775.8 1287.7 760.5 1289.2 757.4 1310.7 748.2 1316.9 752.8 1327.6 729.8 1336.8 716.0 1343.0 714.4 1364.5 M768.2 804.2 782.0 798.0 803.5 799.0 818.8 804.2 834.2 810.3 831.1 817.1 812.7 818.0 803.5 822.0 788.1 818.0 772.8 808.8 768.2 804.2 M887.9 803.3 901.7 810.3 917.0 807.3 935.5 808.8 953.9 807.3 970.8 813.4 973.8 824.1 984.6 825.7 992.3 813.4 1006.1 807.3 1019.9 805.7 1029.1 799.6 1049.1 800.2 1064.4 807.3 1075.2 802.7 1073.6 791.9 1058.3 782.7 1047.5 781.2 1049.1 773.5 1027.6 762.7 1012.2 758.1 996.9 756.6 975.4 755.7 953.9 757.2 935.5 753.5 920.1 759.7 932.4 765.8 940.1 776.6 944.7 788.8 952.4 796.5 938.5 799.6 920.1 798.0 901.7 794.4 887.9 803.3 M1110.5 813.4 1108.9 802.7 1113.5 798.0 1135.0 798.7 1155.0 801.1 1159.6 807.3 1151.9 814.0 1131.9 814.9 1110.5 813.4 M923.2 785.8 937.0 788.8 932.4 790.4 M1273.2 1036.9 1285.4 1034.4 1302.3 1033.5 1300.8 1054.4 1273.2 1057.5 1285.4 1049.8 1287.0 1039.0 1273.2 1036.9 M1278.9 867.1 a5.0 6.0 0 1 0 10.0 0 a5.0 6.0 0 1 0 -10.0 0Z M1287.1 892.6 a3.0 5.0 0 1 0 6.0 0 a3.0 5.0 0 1 0 -6.0 0Z M1297.8 916.2 a3.0 5.0 0 1 0 6.0 0 a3.0 5.0 0 1 0 -6.0 0Z M1299.2 939.3 a2.5 4.0 0 1 0 5.0 0 a2.5 4.0 0 1 0 -5.0 0Z M1292.2 959.2 a2.5 3.0 0 1 0 5.0 0 a2.5 3.0 0 1 0 -5.0 0Z M1342.3 961.7 a3.0 3.0 0 1 0 6.0 0 a3.0 3.0 0 1 0 -6.0 0Z M1277.4 994.5 a2.5 3.0 0 1 0 5.0 0 a2.5 3.0 0 1 0 -5.0 0Z M1306.0 1020.6 a4.0 2.0 0 1 0 8.0 0 a4.0 2.0 0 1 0 -8.0 0Z M1273.2 842.0 a3.0 2.5 0 1 0 6.0 0 a3.0 2.5 0 1 0 -6.0 0Z M1244.6 834.9 a2.5 2.0 0 1 0 5.0 0 a2.5 2.0 0 1 0 -5.0 0Z M1235.9 811.9 a2.0 2.0 0 1 0 4.0 0 a2.0 2.0 0 1 0 -4.0 0Z M1180.1 821.7 a4.0 1.5 0 1 0 8.0 0 a4.0 1.5 0 1 0 -8.0 0Z M1178.1 803.3 a3.0 1.5 0 1 0 6.0 0 a3.0 1.5 0 1 0 -6.0 0Z M1293.7 1046.7 a1.0 1.0 0 1 0 2.0 0 a1.0 1.0 0 1 0 -2.0 0Z M1073.7 993.0 a3.0 3.0 0 1 0 6.0 0 a3.0 3.0 0 1 0 -6.0 0Z M1052.7 992.1 a4.0 2.5 0 1 0 8.0 0 a4.0 2.5 0 1 0 -8.0 0Z M1021.5 982.2 a3.0 2.0 0 1 0 6.0 0 a3.0 2.0 0 1 0 -6.0 0Z M675.1 773.5 a4.0 1.5 0 1 0 8.0 0 a4.0 1.5 0 1 0 -8.0 0Z M719.1 761.2 a3.0 1.0 0 1 0 6.0 0 a3.0 1.0 0 1 0 -6.0 0Z M501.7 862.5 a4.0 1.5 0 1 0 8.0 0 a4.0 1.5 0 1 0 -8.0 0Z M531.3 862.5 a2.0 1.0 0 1 0 4.0 0 a2.0 1.0 0 1 0 -4.0 0Z M534.4 859.4 a2.0 1.0 0 1 0 4.0 0 a2.0 1.0 0 1 0 -4.0 0Z M664.3 980.7 a1.0 2.0 0 1 0 2.0 0 a1.0 2.0 0 1 0 -2.0 0Z M1204.2 1029.2 a6.0 3.0 0 1 0 12.0 0 a6.0 3.0 0 1 0 -12.0 0Z"/>
<path fill="none" stroke="#000" stroke-width="2.5" stroke-linejoin="round" d="M850 1060 852.5 1050 872.5 1032.5 882.5 1020 892.5 997.5 910 972.5 915 950 925 922.5 937.5 895 950 862.5 962.5 832.5 980 842.5 1000 850 1025 858.8 1050 852.5 1075 840 1080 835 M1160 782.5 1175 770 1207.5 770 1222.5 782.5 1222.5 797.5 1255 791.2 1270 807.5 1277.5 825 1285 842.5 1270 860 1265 880 1262.5 905 1270 920 1272.5 935 1265 947.5 1250 960 1242.5 982.5 1245 1010 1237.5 1032.5 1227.5 1045 1222.5 1057.5 M1160 752.5 1185 752.5 1195 735 1185 720 M1205 1057.5 1235 1035 1272.5 1037.5 1310 1032.5 1347.5 1018.8 1360 1037.5 1377.5 1052.5 1397.5 1067.5 1410 1080 M1460 1080 1472.5 1070 1485 1052.5 1500 1061.2 1515 1052.5 1530 1058.8 1542.5 1027.5 1560 1022.5 1580 1030 1597.5 1040 1622.5 1052.5 1640 1060 M1295 1177.5 1315 1161.2 1325 1167.5 1332.5 1185 1347.5 1188.8 1352.5 1200 1350 1212.5 1320 1207.5 1317 1206.7 M1442.5 1251.2 1432.5 1242.5 1425 1227.5 1428.8 1212.5 1437.5 1211.2 1465.9 1241.9 1470 1246.2 1492.5 1240 1515 1238.8 1525 1242.5 1520 1257.5 1530 1265 1546.2 1258.8 1552.5 1275 1570 1282.5 1592.5 1287.5 1559.8 1314.6 1545 1326.2 1510 1332.5 1485 1340 1470 1340 1463.8 1332.5 1467.5 1305 1462.5 1295 M1245 1010 1240 1027.5 1227.5 1042.5 1222.5 1056.2 1207.5 1056.2 1205 1062.5 1222.5 1083.8 1240 1078.8 1262.5 1105 1265 1120 1285 1135 1290 1150 1285 1157.5 1270 1146.2 1253.8 1146.2 1248.8 1152.5 1252.5 1177.5 1260 1190 1270 1200 1285 1203.8 1300 1207.5 1315 1212.5 1335 1222.5 1350 1227.5 1362.5 1231.2 1375 1225 1378.8 1210 1372.5 1185 1375 1165 M1160 1055 1175 1056.2 1192.5 1050 1210 1042.5 M1347.5 1018.8 1362.5 1042.5 1377.5 1055 1392.5 1067.5 1407.5 1081.2 1422.5 1076.2 1437.5 1085 1455 1082.5 1472.5 1072.5 1485 1052.5 1500 1061.2 1515 1051.2 1532.5 1058.8 1535 1040 1542.5 1027.5 1560 1022.5 1580 1030 1600 1040 1622.5 1052.5 1640 1060 M778.2 1091.9 796.6 1089.3 817.6 1095.9 841.2 1097.2 847.8 1105.1 838.6 1120.8 847.8 1135.3 825.5 1152.3 809.7 1174.6 796.6 1160.2 786.1 1136.6 775.6 1123.4 M786.1 1303.3 793.9 1298.1 809.7 1300.7 809.7 1306 793.9 1307.8Z M660 1338.8 675.8 1349.3 691.5 1357.2 712.5 1358.5 733.5 1357.2 748 1365.1 M208.9 980.4 236.1 971.9 259.9 970.2 270.1 960 309.2 965.1 282 978.7 278.6 999.1 270.1 1002.5 256.5 1005.9 253 1007 M221 1015.7 219.1 1016.1 212.3 999.1 208.9 980.4 M174.8 1012.7 177.6 994 182.3 992.3 182.3 1012.7 174.8 1012.7 M159.5 1028 166.3 1016.1 171.4 1028 164.6 1033.1 159.5 1028 M100 1043.3 120.4 1048.4 140.8 1058.6 123.8 1073.9 134 1079 157.8 1077.3 174.8 1087.5 175.2 1089.3 M180.5 1116 181.7 1125 M100 1155.6 117 1150.5 127.2 1131.8 135.7 1119.9 144.2 1111.3 M566.1 1056.9 564.4 1065.4 552.5 1062 540.6 1050.1 532.1 1041.6 494.7 1050.1 474.2 1055.2 455.5 1058.6 462.3 1043.3 458.9 1026.3 440.2 1019.5 421.5 1026.3 419.8 1046.7 399.4 1050.1 379 1051.8 367.1 1043.3 367.1 1016.1 363.7 1002.5 353.5 1011 338.2 1019.5 317.7 1024.6 304.1 1031.4 283.7 1058.6 297.3 1073.9 283.7 1094.3 266.7 1123.3 259.9 1148.8 242.9 1165.8 242.9 1179.4 229.3 1206.6 219.1 1220.2 193.6 1227 188.5 1240.6 202.1 1254.2 210.6 1267.8 236.1 1273 202.1 1278.1 176.5 1278.1 164.6 1288.3 181.7 1305.3 161.2 1307 159.5 1290 137.4 1286.6 123.8 1288.3 135.7 1296.8 128.9 1318.9 130.6 1334.2 178.3 1325.7 181.7 1346.1 212.3 1364.8 M292.2 1165.8 301.7 1155.6 309.9 1168.5 301.7 1179.4Z M348.4 1240.6 361.3 1227.7 351.8 1216.8 333 1201.5 317.7 1213.4 302.4 1204.9 283.7 1210 273.5 1227 283.7 1244 297.3 1261 310.9 1276.4 334.8 1293.4 345.6 1288.3 339.9 1281.5 M450.4 1346.1 464 1322.3 460.6 1305.3 474.2 1288.3 501.5 1267.8 538.9 1259.3 545.7 1238.9 559.3 1242.3 550.8 1257.6 564.4 1279.8 579.7 1264.4 583.1 1244 593.3 1227 622.2 1242.3 625.6 1257.6 632.4 1269.6 M637.5 1315.5 639.2 1334.2 660 1339.3 M401.1 1364.8 402.8 1348.8 409.6 1347.8 423.2 1364.8 M207.2 931 202.1 948 208.9 963.4 222.5 953.1 229.3 941.2 M297.3 915.7 291.2 931 300.7 942.9 317.7 946.3 328.6 934.4 331.3 919.1 M1535 695 1550.8 685.6 1565.8 689.4 1559.4 672.5 1578.1 647 1591.2 648.1 1600.6 659.4 1591.2 668.8 1580 698.8 1568.8 721.2 1546.2 734.4 1535 695 M1645.6 383.8 1619.4 391.2 1614.5 395.1 M1595.5 410.3 1591.2 413.8 1583.8 428.8 1610 438.1 1625 458.8 1645.6 477.5 M1645.6 530 1606.2 531.9 1580 550.6 1565 556.2 1565.7 559 M1572 582.4 1572.5 584.4 1598.8 588.1 1639.6 589.8 1645.6 590 M1542.5 608.8 1561.2 603.1 1568.8 612.5 1554.8 622.3 M1545 614.3 1542.5 608.8 M1645.6 698.8 1626.9 710 1628.8 728.8 1645.6 738.1 M100 765 110 770 107.5 780 112.5 790 110 800 118.8 810 118.8 825 137.5 843.8 157.5 858.8 167.5 865 180 871.2 192.5 875 222.5 877.5 237.5 877.5 250 880 250 880 253.1 914 259.9 937.8 278.6 939.5 280.3 917.4 290.5 890.2 317.7 900.4 340 915 355 922.5 365 950 355 980 367.5 980 385 962.5 405 950 427.5 950 427.5 967.5 405 980 405 997.5 440 995 460 1010 480 1005 495 1025 515 1035 537.5 1030 552.5 1042.5 572.5 1051.2 603.9 1076.1 632.5 1100.5 647.5 1105.5 685 1104.5 702.5 1098.8 715 1091.2 730 1076.2 750 1072.5 762.5 1058.5 762.5 1060 785 1042.5 800 1022.5 820 1005 840 982.5 850 960 878.1 928 885 920 906.4 885.7 910 880 922.5 857.5 932.5 832.5 950 812.5 970 810 982.5 822.5 997.5 812.5 1015 807.5 1022.5 842.5 1040 840 1075 830 1080 827.5 1100 814.9 M1115.3 805.4 1150.9 783 1186.4 760.7 1187.5 760 1201.8 721.8 1216.6 682.5 1217.5 680 1223.8 675 1238.8 670 1255 658.8 1270 651.9 1285 660 1295 645 1320 636.2 1330 627.5 1347.5 617.5 1361.2 605 1366.2 613.8 1362.5 630 1352.5 647.5 1345 662.5 1332.5 675 1335 695 1344.8 734.1 1345 735 1347.5 760 1351.2 770 1351.2 795 1347.5 820 1340 840 1330.4 880.6 1330 882.5 1320 900 1312.5 917.5 1311.2 935 1315 952.5 1332.5 948.8 1325 962.5 1327.5 980 1335 983.8 1350 980 1365 977.5 1370 995 1377.5 1012.5 1392.5 995 1407.5 1002.5 1425 997.5 1442.5 985 1447.5 960 1470 956.2 1477.5 967.5 1495 972.5 1507.5 977.5 1505 995 1515 1003.8 1530 982.5 1545 982.5 1560 977.5 1580 980 1600 972.5 1615 980 1630 981.2 1620 970 1607.5 950 1595 940 1582.5 935 1592.5 922.5 1607.5 925 1630 952.5 1640 962.5 M100 737.5 114.6 746.8 122.4 750.3 139.2 754.3 155.7 759.8 163.6 763.2 171.1 767.4 175.1 775.1 176.7 783.1 170 799.1 175.8 840 176.2 841.9 180.6 849.3 186.8 855.3 194.3 859.5 202.8 861.3 211.4 862.4 220 863 228.6 862.7 237.2 861.9 245.8 860.4 254.1 858.1 262 854.7 270.2 851.9 278.7 853.6 286.5 857.2 321.5 880.9 322.3 881.5 357.2 903.1 393 925.1 403.4 931.5 411.5 934.3 419.8 936.7 428.2 936.3 453.8 931.8 462.3 931.9 470.9 933.2 479.1 935.6 495 942.5 520 945 545 942.5 585.1 933.5 590 932.5 600 925 602.5 907.5 600 890 600 886.2 632.5 862.5 650 852.5 687.3 832.9 724.2 812.9 755 797.5 775 792.5 812.5 785 815 775 808.8 766.2 832.5 767.5 857.5 765 882.5 757.5 902.5 747.5 920 740 955 720 970 710 985 702.5 1000 697.5 1004.9 694.6 M1025.7 682.5 1050 667.5 1076.4 636.8 1080 632.5 1098.8 617.5 1127.5 598.5 1146.2 587.5 1160 575 1170 562.5 1186.2 550 1205 532.5 1221.2 522.5 1252.5 510 1261.2 500 1272.5 490 1285 475 1305 460 1339.7 437.7 1355 427.5 1365 415 1368.1 400 1381.2 388.8 1396.2 379.4 1409.4 368.1 1418.8 355 1428.1 345.6 1450.6 319.4 1469.4 293.1 1476.9 285.6 1488.1 270.6 1495.6 257.5 1501.2 244.4 1524.7 211.6 1529.4 205 1540.6 191.9 1550 178.8 1555.6 165.6 1566.9 152.5 1580 130 M100 740.4 114.8 749 122.6 752.4 138.6 757.2 151.4 764.4 164.3 773.4 167.9 781.2 169.9 789.1 165.9 804.7 176.2 844.9 176.2 845 181.1 851.7 187.6 857.1 195.3 860.8 203.7 862.4 212.3 863.4 220.9 863.9 229.5 863.7 238 862.8 246.5 861.3 254.7 859 262.7 855.8 270.9 853.7 279.2 855.7 286.9 859.5 322.3 882.9 358.1 904.9 393.8 927 403.3 932.8 411.4 935.6 419.7 937.9 428.1 937.5 453.5 933 462 933.1 470.5 934.4 478.7 936.7 494.4 943.8 495 942.5 505 955 530 960 555 962.5 592.5 972.5 600 972.5 610 950 617.5 925 627.5 905 640 890 647.5 880 640 872.5 660 862.5 682.5 855 720.4 837.3 757.8 818.2 772.5 810 792.5 802.5 812.5 797.5 832.5 787.5 852.5 780 892.5 770 912.5 767.5 930 760 950 757.5 965 750 980 740 987.5 725 1000 715 1038.9 700.4 1040 700 1066.3 668.7 1080 652.5 1097.5 636.2 1115 625 1133.8 616.2 1153.8 598.5 1165 586.2 1177.5 570 1192.5 560 1228.2 538.6 1236.2 533.8 1246.2 522.5 1282.5 502.1 1286.2 500 1300 490 1329.6 460.4 1330 460 1345 450 1362.5 440 1385 412.5 1392.5 400 1416.9 375.6 1430 364.4 1457.8 332.3 1465.6 323.1 1482.5 298.8 1488.1 289.4 1491.3 286.2 M1507.1 268.3 1512.5 261.2 1518.1 251.9 1525.6 242.5 1529.4 227.5 1550 199.4 1561.2 186.2 1572.5 176.9 1595 150.6 1610 130 M100 743.3 115 751.2 122.9 754.5 131 757 137.9 760.1 147.1 769 151.6 774 157.4 779.5 160.8 787.3 163.2 795.1 161.7 810.4 173 840.8 176.3 848 181.7 854.1 188.5 858.9 196.3 862.1 204.7 863.6 213.2 864.5 221.7 864.9 230.3 864.6 238.8 863.8 247.2 862.3 255.4 859.9 263.4 856.9 271.6 855.4 279.7 857.7 287.3 861.7 321 883.5 356.8 905.5 392.5 927.6 403.3 934.2 419.6 939.1 428 938.7 453.2 934.3 461.7 934.3 470.1 935.6 478.3 937.8 493.8 945.2 495 942.5 514 956.2 526.8 966.9 539.8 982.2 549.1 996.1 550.8 999 556.8 1011 558.6 1013.8 566.9 1024.3 581.1 1038.4 610 1061.2 632.5 1081.2 627.5 1075 617.5 1055 607.5 1030 611.2 1005 610 987.5 630 970 647.5 950 657.5 925 667.5 907.5 670 890 687.5 885 725.6 865.9 732.5 862.5 747.5 865 762.5 852.5 775 827.5 795 820 815 807.5 835 797.5 855 790 895 780 915 777.5 954.5 767.6 975 762.5 995 762.5 1005 747.5 1002.5 732.5 1040 717.5 1075 700 1080 672.5 1092.5 658.8 1110 646.2 1127.5 636.2 1145 625 1160 613.8 1176.2 598.5 1180 592.5 1190 581.2 1205 570 1228.7 556.1 M1252 542.4 1253.8 541.2 1267.5 535 1280 525 1292.5 516.2 1305 506.2 1311.2 500 1315 490 1347.1 462.8 1347.5 462.5 1365 452.5 1380 440 1395 425 1402.5 410 1430 400 1454.4 375.6 1478.8 355 1486.2 341.9 1491.9 326.9 1499.4 315.6 1506.9 298.8 1512.5 283.8 1521.9 272.5 1529.4 261.2 1538.8 250 1562.3 217.1 1566.9 210.6 1591.2 190 1608.1 198.4 1625 186.2 1640 165.6 M100 746.2 115.3 753.4 123.1 756.6 131.2 759.2 137.3 763.1 139.8 768.2 145.7 779.4 150.5 785.5 156.4 801 156.8 808.6 157.5 816 164.4 830.7 172.1 844.5 176.3 851 182.2 856.6 189.4 860.7 197.3 863.5 205.6 864.8 214.1 865.5 222.6 865.9 231.1 865.6 239.5 864.7 247.9 863.2 256.1 860.8 264.1 858 272.3 857.2 280.3 859.8 287.7 863.9 301.7 873.4 337.7 894.8 373.3 917.1 403.2 935.6 419.5 940.2 427.8 939.9 452.9 935.5 461.4 935.5 469.8 936.8 477.9 939 493.1 946.5 493.8 945 512.6 959.5 525.5 970.6 532.2 978.2 538.5 986.3 547.6 1000.6 555.9 1015.4 557.7 1018.2 566.5 1028.6 581.3 1042.7 610.7 1065.7 623.6 1076.8 634.4 1085 635 1085 640 1086.2 647.5 1082.5 640 1075 627.5 1057.5 617.5 1040 622.5 1020 622.5 1025 630 1000 632.5 982.5 650 967.5 665 950 682.5 920 720.1 902.4 725 900 760 885 780 880 790 862.5 805 840 815 827.5 835 817.5 855 805 875 797.5 916.5 788.2 920 787.5 940 785 980 775 1000 777.5 1020 767.5 1030 760 1050 750 1080 730 1092.6 691.2 1096.2 680 1111.2 666.2 1127.5 653.8 1142.5 645 1172.5 625 1183.8 612.5 1195 598.5 1205 590 1215 582.5 1245 565 1261.2 553.8 1273.8 547.5 1286.2 537.5 1298.8 525 1308.8 513.8 1320 503.8 1337.5 490 1337.7 489.8 M1356.6 470.6 1360 467.5 1380 455 1400 440 1415 427.5 1430 412.5 1448.8 400 1463.8 385 1490 362.5 1499.4 349.4 1510.6 321.2 1514.4 308.1 1523.8 291.2 1533.1 285.6 1555.6 276.2 1563.1 266.9 1578.1 259.4 1595 261.2 1610 246.2 1623.1 237.8 1640 250 M100 749.2 123.3 758.7 131.3 761.4 136.6 766 137.2 771.9 139.7 784.8 143.7 791.5 146.5 799.4 149.7 807 151.3 814.5 153.4 821.7 161.7 835.5 171.2 848.2 176.4 854 182.8 859 190.3 862.5 198.2 864.8 206.6 865.9 215 866.6 223.5 866.8 231.9 866.5 240.3 865.7 248.6 864.1 264.7 859.1 273 858.9 280.8 861.8 288.1 866.1 302 875.6 338.3 896.5 373.9 918.8 403.2 936.9 419.4 941.4 427.7 941.1 452.7 936.8 461 936.6 469.4 938 477.5 940.1 492.5 947.8 492.5 947.5 523.6 973.7 524.2 974.2 528.9 979.3 537.2 990.3 546.2 1005 554.9 1019.8 556.9 1022.7 568.6 1035.4 581.4 1047 613.9 1072.2 622.1 1079.1 636.2 1088.8 647.5 1088.8 660 1087.5 650 1075 640 1058.5 635 1060 637.5 1042.5 650 1025 647.5 1007.5 665 992.5 680 962.5 700 947.5 720 935 740 927.5 760 922.5 780 922.5 787.5 907.5 810 880 825 891.2 840 875 850 850 852.5 827.5 872.5 815 892.5 800 912.5 795 932.5 792.5 972.5 782.5 992.5 775 1012.5 782.5 1052.5 772.5 1070 762.5 1080 750 1082.4 746.2 M1095.1 725.8 1117.4 690.2 1123.8 680 1132.5 668.8 1145 660 1181.1 637.6 1192.5 630 1205 616.2 1215 607.5 1223.8 598.5 1237.5 590 1252.5 582.5 1262.5 573.8 1272.5 562.5 1285 552.5 1295 540 1313.8 521.2 1320 517.5 1352.1 489 1360 482 1375 470 1390 460 1415 432 1430 420 1445 410 1465 407.5 1467.5 396.2 1486.2 394.4 1505 390.6 1516.2 375.6 1529.4 364.4 1533.1 355 1546.2 351.2 1557.5 358.8 1566.9 368.1 1561.2 383.1 1576.2 383.1 1589.4 375.6 1606.2 362.5 1617.5 349.4 1619.4 336.2 1630.6 323.1 1640 317.5 M100 752.1 131.4 763.7 136 768.9 134.6 775.7 133.7 790.2 136.8 797.5 139.4 805.5 142.9 812.9 145.8 820.3 149.2 827.4 154 834 159.1 840.3 170.3 851.9 176.4 857.1 183.4 861.4 191.1 864.3 199.2 866.1 215.9 867.7 232.7 867.5 241.1 866.6 249.3 865 265.4 860.2 273.7 860.7 281.3 863.9 295.5 873 302.3 877.8 338.8 898.1 339 898.2 374.4 920.5 403.2 938.3 419.4 942.6 427.6 942.3 452.4 938 460.7 937.8 469 939.2 477.1 941.3 491.9 949.2 491.2 950 522.2 977.2 527.7 982.9 529.9 985.7 537.9 997.2 546.3 1012.6 556.1 1027.1 568.3 1039.8 584.3 1053.4 617.5 1079 623.1 1083.6 626 1085.5 638.1 1092.5 672.5 1088.8 662.5 1058.5 665 1060 682.5 1040 700 1027.5 692.5 997.5 710 982.5 727.5 977.5 745 960 765 947.5 802.9 933.3 805 932.5 825 917.5 840 902.5 855 885 865 860 882.5 837.5 892.5 820 912.5 810 952.1 800.6 975 795 995 787.5 1012.5 792.5 1035 790 1055 785 1080 772.5 1097.5 745 1112.5 725 1125 705 1151.2 680 1157.5 670 1167.5 662.5 1180 657.5 1192.5 650 1215 632.5 1225 627.5 1236.2 615 1255 598.5 1263.8 587.5 1275 576.2 1287.5 565 1300 550 1311.2 538.8 1314.2 537.1 M1344.5 513.2 1347.5 510 1362.5 497.5 1377.5 482.5 1395 470 1410 457.5 1422.5 443.8 1428.8 443.8 1433.8 458.8 1440 461.2 1475.5 441.7 1487.5 435 1505 422.5 1516.2 416.2 1536.8 426.8 1525.5 455 1520 481.2 1525.5 503.8 1503.6 537.9 1495.5 550.5 1501.2 575 1503 595.5 1476.8 620 1453.9 654.6 1445 668.8 1430 687.5 1413 721.2 1420 737.5 1422.5 760 1421.2 760 1412.5 770 1422.5 787.5 1437.5 805 1455 806.2 1460 820 1462.5 842.5 1475 852.5 1492.5 860 1507.5 870 1515 885 1520 875 1530 865 1547.5 875 1550 850 1546.2 827.5 1565 817.5 1585 795 1605 785 1620 772.5 1640 762.5 M100 755 115.9 760 131.6 765.9 135.3 771.8 132 779.5 127.7 795.6 132.2 811.6 140.3 826.1 145 833 150.5 839.3 156.4 845.2 162.8 850.6 169.4 855.7 176.5 860.1 183.9 863.8 192 866 200.2 867.5 216.9 868.7 233.5 868.5 241.8 867.5 250 865.9 266.1 861.3 274.3 862.4 281.9 865.9 302.6 880 339.4 899.7 339.4 899.7 374.7 922.1 403.1 939.6 419.3 943.7 427.4 943.5 452.1 939.3 460.4 939 468.6 940.4 476.6 942.4 491.2 950.5 490 952.5 520.2 980.2 526.6 986.6 528.7 989.4 536.7 1001.2 538.4 1004.3 544.8 1017.1 555.3 1031.5 567.9 1044.1 601.5 1070.5 624.2 1088.1 627.2 1089.9 640 1096.2 675 1092.5 690 1092.5 707.5 1082.5 711.2 1058.5 720 1060 735 1042.5 755 1022.5 760 1000 782.5 975 800 952.5 820 940 840 925 860 907.5 875 890 887.5 870 885 860 900 842.5 905 825 925 815 945 807.5 965 802.5 980 820 990 810 1010 802.5 1030 797.5 1050 795 1065 800 1075 792.5 1080 785 1115.4 764.2 1122.5 760 1140 742.5 1150 722.5 1178.8 693.7 1180 692.5 1188.8 680 1202.5 670 1212.5 658.8 1222.5 645 1236.2 636.2 1250 628.8 1258.8 618.8 1268.8 611.2 1270.6 610 M1298.3 583.5 1302.5 577.5 1313.8 567.5 1320 563.8 1332.5 557.5 1345 546.2 1360 561.2 1375 550 1390 552.5 1407.5 557.5 1422.5 551.2 1428.8 567.5 1427.5 590 1425 612.5 1421.2 627.5 1415 640 1405 670 1400 682.5 1392.5 697.5 1382.5 730 1377.5 760 1381.9 802.4 1382.5 807.5 1395 827.5 1402.5 842.5 1412.5 857.5 1397.5 875 1402.5 892.5 1407.5 920 1415 905 1453.1 886 1455 885 1467.5 892.5 1472.5 902.5 1485 910 1500 915 1515 927.5 1530 930 1545 927.5 1562.5 922.5 1560 910 1557.5 905 1565 885 1575 862.5 1592.5 862.5 1607.5 852.5 1622.5 870 1640 867.5"/>
<path fill="none" stroke="#000" stroke-width="2.5" stroke-dasharray="2.5 3.7" d="M164.4 135 172.5 148.8 181.2 156.9 192.5 161.2 203.8 167.5 215 177.5 225 187.5 235 196.2 245 206.2 252.5 216.2 260 241.2 261.9 267.5 268.1 291.2 267 291.5 268 302.5 275 308.8 286.2 315 297.5 327.5 305 340 311.2 355 315.5 370 320 382.5 335 405 340.5 415 347 443.8 352.5 455 375 475 400 495 415 503.8 450 521.2 462.5 525 498.6 547.5 505 551.2 520 558.8 535 563.8 565 571.2 580 573.8 595 580 620 582.5 640 592.5 657.5 605 665 612.5 670 625 690 628.8 715 626.2 740 617.5 775.9 595.9 777.5 595 M810 560 830 547.5 850 537.5 870 525 908.4 505.8 910 505 930 497.5 970 485 990 478.8 1010 471.2 1030 462.5 1050 455 1073 440.2 1106.1 415.4 1139.7 390.2 1153 380.2 1152.5 355 1175 335 1197.5 322.5 1202.5 305 1212.5 290 1246 267.7 1257.5 260 1270 230 1273.8 205 1268.3 162.9 1265 130 M140.6 135 144.4 145 153.1 152.5 165 155.6 170 161.9 180 170 190 175.6 198.8 182.5 206.2 191.2 217.5 201.2 226.2 208.1 232.5 215 236.2 222.5 240 233.8 243.8 242.5 243.8 255 245 265 247.5 275 248.8 286.2 248.8 305 256.2 315 272.5 330 286.2 345 293.8 360 300 397.5 307.5 410 312.5 425 318.8 440 323.8 455 327.5 470 336.2 482.5 346.2 495 357.5 505 372.5 513.8 387.5 523.8 412.5 543.8 427.5 550 455 557.5 462.5 565 475 571.2 490 573.8 525 577.5 540 582.5 550 587.5 551.2 590 560 591.2 568.8 593.1 580 596.2 590 595 627.5 610 642.5 620 647.5 635 650 647.5 665 648.8 685 646.2 705 642.5 720 637.5 740 632.5 776.5 614.2 780 612.5 814.2 589.7 825 582.5 840 570 870 550 880 537.5 890 532.5 900 540 912.5 535 925 527.5 940 520 980 512.5 995 502.5 1005 492.5 1020 485 1035 480 1050 473.8 1081.9 448.6 1115.5 423.4 1132.3 410.8 M1172.1 378.9 1190 362.5 1215 352.5 1230 337.5 1240 315 1247.5 290 1265 267.5 1277.5 255 1277.5 214.1 1277.5 172 1276.2 130 M122.5 135 126.9 143.8 132.5 148.1 137.5 153.8 145 159.4 155 163.8 165 167.5 171.2 173.8 187.5 187.5 202.5 202.5 208.8 211.2 215 217.5 220 226.2 225 237.5 227.5 246.2 230 262.5 232.5 268.8 234.4 275 235.6 291.2 235.5 291.5 231.2 305 240 316.2 256.2 330 265 345 267.5 360 272.5 375 275 392.5 285 422.5 287.5 440 286.2 455 286.2 472.5 292.5 487.5 315 512.5 349.3 535.1 370 547.5 382.5 557.5 395 570 407.5 580 422.5 586.2 437.5 590 455 592.5 427.5 590 435 591.9 458.8 596.2 470 599.4 513 598.6 517.5 598.8 526.2 602.5 535 606.9 545 611.2 555 615 573.8 621.2 580 624.4 590 622.5 607.5 626.2 613.8 645 620 660 640 661.2 657.5 655 698.9 653.8 705 653.8 725 651.2 765 638.8 785 630 820 610 835 600 850 592.5 865 582.5 880 575 895 565 910 557.5 925 552.5 955 537.5 970 532.5 986.6 524.1 M1030.8 498.5 1032.5 497.5 1050 490 1070.4 478.4 1104.5 452.9 1138.1 427.6 1170.4 403.4 1203 379 1235 355 1252.5 337.5 1265 320 1280 317.5 1291.2 298.8 1302.5 276.2 1310.9 251.9 1313.8 231.2 1312.8 214.4 1308.1 193.8 1298.8 176.9 1293.1 158.1 1288.8 130 M110.6 135 115 144.4 118.8 148.8 123.8 153.8 136.2 162.5 169.9 188.7 170 188.8 187.5 206.2 192.5 215 197.5 220 200 226.2 203.8 233.8 211.2 246.2 213.8 251.2 217.5 256.2 220 262.5 222.5 270 223.8 286.2 223.1 291.2 223 291.5 220 307.5 225 322.5 232.5 337.5 240 372.5 250 407.5 253.8 425 255 442.5 252.5 457.5 255 472.5 262.5 487.5 275 500 297.5 527.5 310 540 320 552.5 327.5 565 337.5 577.5 356.2 590 362.5 595 370 602.5 377.5 608.8 385 614.4 393.8 618.1 425 625 432.5 628.8 442.5 631.2 452.5 633.1 462.5 634.4 471.2 633.8 478.8 630 486.2 625.6 495 622.5 502.5 620.6 508.8 624.4 511.9 628.8 508.8 633.8 503.8 638.1 500.6 642.5 501.2 647.5 507.5 650 527.5 652.5 537.5 655 545 658.1 551.2 662.5 556.2 667.5 562.5 673.1 570 677.5 580 682.5 585 682.5 602.5 681.2 620 678.8 640 680 660 682.5 680 682.5 700 680 738.8 667.1 760 660 796.4 641.8 805 637.5 820 627.5 835 620 871.2 597.5 875 595 911.2 576.9 948.8 558.1 986.4 539.3 1024 520.5 1050 507.5 1079.4 490.4 1113.1 465.2 1146.7 440 1179.4 415.4 1204.4 396.7 M1244.4 365 1247.5 362.5 1265 350 1280 336.2 1295 319.4 1318.6 283.8 1334.4 261.2 1341.9 242.5 1340.9 223.8 1336.2 205 1326.9 186.2 1313.8 173.1 1300.6 158.1 1294.1 130 M100 135 106.2 146.2 110 150.6 115 155 120 160 125 164.4 131.2 168.8 137.5 173.8 142.5 178.8 161.2 193.8 167.5 199.4 173.8 206.2 178.8 212.5 186.2 227.5 188.8 233.8 200 252.5 203.8 260 208.8 275 209.4 282.5 207.5 291.2 207.2 291.5 203.8 307.5 205 325 212.5 340 216.2 357.5 217.5 375 217.5 392.5 215 427.5 210 457.5 217.5 472.5 227.5 490 240 500 247.5 512.5 252.5 527.5 262.5 542.5 275 552.5 285 562.5 305 587.5 317.5 595 323.8 602.5 331.2 610 340 616.9 340 618.1 347.5 621.9 356.2 627.5 365 632.5 395 647.5 405 650.6 415 654.4 422.5 658.1 427.5 662.5 430 668.8 433.8 675 440 676.9 448.8 676.2 455 676.2 458.8 682.5 462.5 687.5 467.5 692.5 472.5 693.8 480 691.9 517.5 686.9 527.5 686.9 536.2 688.1 552.5 695 571.2 699.4 580 700.6 590 697.5 610 695 630 695 650 696.2 670 696.2 690 695 729.6 685.1 750 680 770 672.5 807.3 653.9 815 650 830 640 845 632.5 860 622.5 890 607.5 905 597.5 940.8 579.6 978.4 560.8 1016 542 1050 525 1066.6 515 1080.7 504.5 M1119.1 475.7 1152.7 450.4 1186.4 425.2 1220 400 1253.8 375.1 1265 367.5 1295 341.9 1321.6 311.9 1325 308.1 1338.1 291.2 1362.5 257.5 1370 242.5 1368.1 227.5 1360.6 210.6 1351.2 193.8 1336.2 184.4 1321.2 171.2 1312.8 154.4 1308.1 130 M100 159.4 106.2 165.6 118.8 176.9 125 181.2 143.8 192.5 150 197.5 156.2 203.8 161.2 210 165 217.5 181.2 243.8 186.2 250 190 256.2 195 271.2 195.6 278.8 192.5 286.2 189.4 291.2 189.5 291.5 187.5 307.5 192.5 342.5 191.2 360 187.5 377.5 176.2 405 175 415 180 425 181.2 440 172.5 472.5 173.8 492.5 182.5 500 195 505 202.5 517.5 212.5 530 222.5 540 230 552.5 240 562.5 247.5 572.5 260 582.5 273.8 590 277.5 596.2 281.2 603.8 295 625 300 631.2 306.2 637.5 312.5 642.5 318.8 646.9 325 650 332.5 652.5 340 653.8 346.2 654.4 352.5 657.5 358.8 662.5 365 668.8 368.1 675 365.6 681.2 362.5 686.2 361.2 690 365 695 372.5 698.8 390 708.8 396.2 713.1 401.2 717.5 403.8 721.2 400 726.2 396.9 731.2 396.2 736.2 402.5 739.4 410 741.9 417.5 743.8 425 745 433.8 743.8 468.8 735 487.5 727.5 496.2 725.6 506.2 725 515 721.2 521.2 717.5 527.5 713.1 532.5 711.2 542.5 713.1 580 715.6 590 713.8 610 711.2 630 710 650 710 670 711.2 690 710 710 707.5 730 702.5 769 687.9 787.5 680 805 670 820 662.5 835 652.5 865 637.5 880 627.5 917.2 608.9 954.8 590.1 992.4 571.3 1030 552.5 1050 542.5 1075.6 527 1108.4 502.5 1142 477.3 M1182.9 446.6 1215.6 422.1 1247.7 397.9 1275.6 377.1 1280 371.9 1296.9 355 1313.8 340 1328.8 325 1343.8 308.1 1369.8 274.7 1370 274.4 1390.6 242.5 1387.8 229.4 1392.5 220 1392.5 205 1385 188.1 1375.6 158.1 1355 160 1336.2 158.1 1329.1 152.5 1329.7 130 M100 179.4 107.5 186.2 113.8 191.2 128.8 198.8 136.2 203.8 142.5 208.8 147.5 215 155 230 158.8 238.8 172.5 260 173.8 267.5 173.8 276.2 171.2 285 168 291.5 157.5 305 156.2 322.5 157.5 342.5 161.2 355 167.5 365 165 382.5 150 388.8 141.2 393.8 M100 195.6 107.5 201.2 113.8 205 120 207.5 126.2 211.2 131.2 216.2 152.5 250 155 255 M130.7 298.9 131.2 305 127.5 322.5 125 340 120 355 112.5 367.5 100 376.2 M100 207.5 107.5 211.2 112.5 215 116.2 220 118.8 226.2 120 232.5 118.8 238.8 118.1 244.2 M113.8 280 111.2 291.2 111.2 291.5 107.5 305 100 327.5 M100 204.4 105.6 208.1 108.8 212.5 106.2 220 100 226.9 M141.2 440 140 447.5 148.8 450 153.8 443.8 150 438.8Z M100 568.8 125 583.8 150 590.5 155 592.5 156.9 598.1 155.6 606.2 155.6 607 M114.8 634.6 112.5 640 110 650 109.4 660 111.9 671.2 107.5 680 100 686.2 M109 631.6 107.5 635.6 100 637.5 M198.9 714.9 193.8 717.5 180 713.8 171.9 702.5 171.9 690 175 686.2 M490 821.2 502.5 825 507.5 815 513.8 801.2 520 797.5 530 801.2 540 808.8 547.5 812.5 555 808.8 563.8 802.5 568.8 795 575 798.8 580 807.5 580 835 572.5 842.5 565 846.2 557.5 842.5 545 841.2 533.8 846.2 530 856.2 531.2 865 532.5 873.8 525 880 515 880 502.5 877.5 490 873.8 482.5 866.2 478.8 855 477.5 842.5 481.2 830Z M100 530 118.8 523.8 132.5 526.2 153.8 536.2 147.5 551.2 162.5 553.8 175 558.8 180 565 180 580 195 588.8 210 583.8 225 589.5 223.8 590 230 596.2 242.5 610.6 259.5 649.7 261.2 653.8 266.2 671.2 270 678.8 282.5 693.8 288.8 698.8 292.5 705 301.2 722.5 312.5 736.2 318.8 738.8 340 737.2 376.9 752.8 415.6 769.2 417.5 770 427.5 775 440 775.6 452.5 775 465 772.5 424.6 760.8 384.2 749.1 343.8 737.4 341.9 736.7 347.5 738.1 365 751.2 372.5 755 381.2 758.1 390 758.8 397.5 761.2 412.5 767.5 417.5 770 448.8 770 452.5 768.1 462.5 766.9 472.5 766.9 480 767.5 487.5 764.4 496.2 760 503.8 753.8 508.8 748.8 512.5 742.5 515 737.5 520 735.6 530 735 540 735 550 735.6 565 740.6 572.5 741.9 576.5 742.1 570 741.2 590 737.5 605 730 625 726.2 645 725 665 726.2 685 726.2 705 723.8 725 718.8 745 712.5 782.5 697.5 800 687.5 815 680 830 670 860 655 875 645 905 630 935 620 939.3 618.8 M985.3 598 990 595 1028 576 1035 572.5 1050 562.5 1062.8 551.6 1096 526.8 1129.6 501.6 1162.8 476.6 1196.9 451.1 1230.5 425.9 1262.8 401.6 1295 376.8 1298.8 373.8 1315.6 358.8 1332.5 341.9 1360.3 310.6 1362.5 308.1 1375.6 291.2 1383.1 272.5 1392.5 257.5 1400 242.5 1401.9 235 1411.2 220 1422.5 205 1428.1 191.9 1430 176.9 1435.6 161.9 1445 150.6 1445.9 130 M100 705.6 121.2 711.9 131.2 713.1 141.2 718.8 150 725 156.2 731.2 161.2 735.6 170 736.9 180 735.6 186.2 740 190 747.5 195 752.5 200 748.8 198.8 737.5 202.5 732.5 210 728.8 218.8 725 225 723.8 232.5 726.9 241.2 731.2 250 732.5 258.8 735 263.8 738.8 268.8 753.8 272.5 761.2 281.2 770 287.5 772.5 297.5 775 339 778.1 350 778.8 360 780.6 367.5 785 377.5 800 386.2 806.2 395 810 400 817.5 401.2 827.5 398.8 845 415 876.2 402.5 881.2 377.5 880 371.2 886.2 377.5 893.8 410 896.2 417.5 907.5 427.5 910 465 907.5 475 905 480 900 475 893.8 467.5 887.5 462.5 882.5 452.5 880 443.8 876.2 438.8 872.5 445 862.5 450 851.2 453.8 840 462.5 820 465 811.2 475 791.2 480 782.5 490 776.2 497.5 770 506.2 770 515 767.5 532.5 760.6 540 758.8 550 757.5 580 759.4 570 757.5 610 755 625 757.5 640 752.5 660 747.5 700 742.5 720 737.5 740 731.2 760 723.8 777.5 715 795 707.5 810 697.5 825 690 840 680 878 661 915 642.5 955.5 629 960 627.5 996.1 609.5 1033.7 590.7 1050 582.5 1069.7 560.9 1103.8 535.3 1137.4 510.1 1169.7 485.9 1202.3 461.4 1235.9 436.2 1269.6 410.9 1269.7 410.9 1287.5 400 1296.9 390.6 1313.8 375.6 1343.6 345.7 1347.5 341.9 1375.8 310 1377.5 308.1 1389.7 291.2 1396.2 280 1407.5 265 1415 250 1415.1 249.9 M1440.1 205.4 1450.6 184.4 1460 169.4 1467.5 154.4 1476.9 130 M100 714.4 114.2 719.2 121.5 721 128.6 723.3 135.6 726.1 142.1 729.8 148.5 733.8 154.5 738.4 160.7 742.5 174.1 749.2 187.4 756.2 194.3 759.2 199 764.6 200 771.9 199.5 779.4 198.1 786.7 195.5 793.7 195.9 801.1 199.3 807.5 209.6 818.4 215.8 822.6 221.2 827.8 235.5 845.1 242.5 845.2 248.3 840.4 254.7 836.6 261.8 835.7 268.3 838.9 274.2 843.6 280.7 846.8 288.1 848 295.2 850.1 302 853.5 337.4 875.3 340 876.9 346 881.1 380.9 902 410.8 919 417.7 921.7 440 925 445 915 469.2 881.2 470 880 498.7 851.3 500 850 532.2 825.8 540 820 570 795 600 780 625 777.5 666.9 769.1 708 760.4 730 755 767.9 740.8 770 740 805 720 835 700 872.1 681.4 909.7 662.6 910 662.5 940 652.5 955 645 970 640 1006.3 621.8 1043.9 603 1050 600 1076 569.2 1108 545.2 1141.7 520 1175.3 494.8 1208.9 469.5 1223.4 458.7 M1254.6 435.3 1288.2 410.1 1296 404.2 1304.4 400 1333.3 371 1345.6 358.8 1374 326.8 1390.6 308.1 1401.9 291.2 1418.8 278.1 1431.9 261.2 1454.1 226.7 1476.4 191.1 1498.7 155.4 1499.4 154.4 1507.8 130 M100 720.2 114.3 726.1 136.5 733.2 143.5 736.6 150.3 740.3 163.3 748.8 169.3 753.2 174.8 757.7 183.1 766.9 188.5 771.3 192.4 777.5 193.4 785.1 193.3 792.9 191.7 807.6 193.6 814.6 198 820.5 203.9 825.1 210.1 829.4 216.9 832.7 223.1 836.5 234.4 844.7 240.1 848.3 247.4 847.6 253.8 843.3 260.7 840.8 267.9 841.1 274.6 844.7 280.8 849.4 287.5 853 294.9 855.1 302 858 308.9 861.6 344.9 883.8 374.8 902.4 388.6 909.5 428.5 923.7 431 924.5 453.8 929.4 455 922 485.8 893.8 490 890 523.9 864.5 558.1 840 565 835 597.3 807.3 600 805 639.8 793.1 650 790 675 785 700 777.5 730 772.5 769.8 757.6 770 757.5 805 737.5 835 717.5 871.4 699.3 909 680.5 910 680 948.8 667.1 955 665 992.2 646.4 1029.8 627.6 1050 617.5 1063.2 593.9 1095.6 569.6 1129.2 544.3 1162.9 519.1 1196.5 493.8 1230.2 468.6 1263.2 443.9 1297.5 418.1 1303.2 413.9 1319.4 400 1348.2 371.2 1360.6 358.8 1388.8 327 1403.8 310 1413.3 300.5 M1436.6 273.2 1446.9 261.2 1469.3 226.5 1491.6 190.8 1513.9 155.2 1514.4 154.4 1523.8 130 M100 725.9 114.4 733 122 735.6 137.4 740.2 144.8 743.3 152.1 746.8 165.9 755 171.2 760.5 175.4 766.1 178.7 777.6 182.8 783.4 185.7 790.4 186.8 798.3 187.1 814.3 188 821.5 191.3 828.2 196.8 833.5 203.5 837.2 210.5 840.4 238.2 850 244.8 851.6 252.3 850 259.2 846.2 266.7 845.1 274.1 846.5 281 850.5 287.5 855.2 294.4 859.2 301.7 862.2 308.8 865.8 343.3 886.8 377.4 907.9 384.3 912.1 399 918.6 406.4 920.3 429 923.6 452.1 929.2 467.5 933.8 470 928 500 905 536.1 882.5 570 860 599.7 832.7 600 832.5 625 820 650 810 689.1 798.3 700 795 725 785 766.8 775.7 770 775 805 755 835 735 871.1 716.9 908.7 698.1 910 697.5 948.5 684.7 955 682.5 991.9 664.1 1029.4 645.3 1050 635 1076.3 604.7 1090.4 588.5 1123.6 563.6 1157.2 538.4 1164.4 532.9 M1193.2 511.3 1226.8 486.1 1260.5 460.9 1294.1 435.7 1327.7 410.5 1341.9 400 1371.9 370 1399.8 338.6 1427.5 307 1428.1 306.2 1439.4 291.2 1450.6 278.1 1473.1 244.4 1495.7 208.3 1517.9 172.7 1529.4 154.4 1539.7 130 M100 731.7 114.5 739.9 122.2 743 138.3 747.2 153.9 753.3 161.3 757 168.5 761.2 173.1 767.8 176.1 774.6 174.4 788.4 177 795.5 179 803.3 181.6 828.1 184.3 835.4 189 841.8 195.5 846.5 203.2 849.2 210.9 851.4 226.8 854 234.4 854.8 242 855.2 249.4 854.8 257.2 852.3 264.7 849 272.7 849.4 280.3 851.9 301.2 865.4 335.9 886.1 371.6 908.2 393.8 921.8 409.4 927.6 417.3 928.3 441.4 927.7 449.5 928.7 457.6 930.3 465.6 932.4 481.2 938.1 490 937.5 510 943 520 927.5 535 915 555 925 570 922.5 576.9 883 577.5 880 600 860 620 847.5 657.4 827.8 662.5 825 685 815 707.5 807.5 745.8 790.5 775 777.5 805 772.5 835 752.5 873.2 733.4 895 722.5 934.5 709.3 955 702.5 970 695 985 685 1023.2 665.9 1050 652.5 1081.4 624.6 1088.2 618.6 M1115.1 594.6 1121.8 588.6 1155.4 563.4 1189.1 538.2 1221.8 513.6 1253.9 489.6 1287.5 464.4 1321.1 439.1 1354.8 413.9 1361.8 408.6 1358.8 400 1370 386.9 1386.9 370 1415.4 337.9 1443.1 306.3 1443.1 306.2 1454.4 291.2 1467.5 278.1 1490 244.4 1512.4 208.6 1534.6 173 1546.2 154.4 1555.6 130"/>
<g font-size="20px" text-anchor="middle">
<text transform="translate(112 261) rotate(-85)" y="7.3">-8</text>
<text transform="translate(141 275) rotate(-55)" y="7.3">-10</text>
<text transform="translate(118 402) rotate(-20)" y="7.3">-12</text>
<text transform="translate(116 615) rotate(75)" y="7.3">-8</text>
<text transform="translate(137 623) rotate(8)" y="7.3">-10</text>
<text transform="translate(200 691) rotate(30)" y="7.3">-10</text>
<text transform="translate(359 828) rotate(5)" y="7.3">-10</text>
<text transform="translate(793 577) rotate(-42)" y="7.3">-24</text>
<text transform="translate(1009 511) rotate(-30)" y="7.3">-20</text>
<text transform="translate(963 612) rotate(-25)" y="7.3">-12</text>
<text transform="translate(1154 396) rotate(-45)" y="7.3">-22</text>
<text transform="translate(1224 380) rotate(-35)" y="7.3">-18</text>
<text transform="translate(1101 491) rotate(-35)" y="7.3">-16</text>
<text transform="translate(1163 463) rotate(-35)" y="7.3">-14</text>
<text transform="translate(1240 447) rotate(-32)" y="7.3">-8</text>
<text transform="translate(1178 522) rotate(-35)" y="7.3">-4</text>
<text transform="translate(1100 605) rotate(-40)" y="7.3">-2</text>
<text transform="translate(1016 689) rotate(-35)" y="7.3">0</text>
<text transform="translate(1240 550) rotate(-30)" y="7.3">4</text>
<text transform="translate(1347 480) rotate(-35)" y="7.3">6</text>
<text transform="translate(1330 527) rotate(-45)" y="7.3">10</text>
<text transform="translate(1286 598) rotate(-45)" y="7.3">12</text>
<text transform="translate(1085 734) rotate(-45)" y="7.3">8</text>
<text transform="translate(1100 797) rotate(-35)" y="7.3">14</text>
<text transform="translate(1429 228) rotate(-60)" y="7.3">-10</text>
<text transform="translate(1424 286) rotate(-55)" y="7.3">-6</text>
<text transform="translate(1500 277) rotate(-55)" y="7.3">2</text>
<text transform="translate(1597 336) rotate(-55)" y="7.3">8</text>
<text transform="translate(1606 404) rotate(-50)" y="7.3">8</text>
<text transform="translate(1571 570) rotate(-75)" y="7.3">8</text>
<text transform="translate(1545 628) rotate(-30)" y="7.3">8</text>
<text transform="translate(1530 672) rotate(-30)" y="7.3">10</text>
<text transform="translate(1613 722) rotate(-80)" y="7.3">8</text>
<text transform="translate(226 916) rotate(35)" y="7.3">16</text>
<text transform="translate(240 1019) rotate(-35)" y="7.3">14</text>
<text transform="translate(165 1105) rotate(30)" y="7.3">16</text>
<text transform="translate(334 1257) rotate(-75)" y="7.3">16</text>
<text transform="translate(362 1342) rotate(-30)" y="7.3">16</text>
<text transform="translate(640 1296) rotate(-85)" y="7.3">16</text>
<text transform="translate(672 1313) rotate(40)" y="7.3">16</text>
<text transform="translate(1453 1271) rotate(62)" y="7.3">16</text>
<text transform="translate(1302 1195) rotate(45)" y="7.3">14</text>
</g>
</g>
<rect x="102" y="137" width="1536" height="1229" fill="none" stroke="#000" stroke-width="2"/>
<g font-size="25px">
<text x="89.6" y="1218.9" text-anchor="end">5°N</text>
<text x="89.6" y="1065.4" text-anchor="end">10°N</text>
<text x="89.6" y="911.9" text-anchor="end">15°N</text>
<text x="89.6" y="758.4" text-anchor="end">20°N</text>
<text x="89.6" y="604.9" text-anchor="end">25°N</text>
<text x="89.6" y="451.4" text-anchor="end">30°N</text>
<text x="89.6" y="297.9" text-anchor="end">35°N</text>
<text x="409.6" y="1396.6" text-anchor="middle">90°W</text>
<text x="716.6" y="1396.6" text-anchor="middle">80°W</text>
<text x="1023.6" y="1396.6" text-anchor="middle">70°W</text>
<text x="1330.6" y="1396.6" text-anchor="middle">60°W</text>
</g>
<g font-size="27.5px" text-anchor="middle">
<text x="869.1" y="55.4" xml:space="preserve">GFS — θe de saturación media 1000–700 hPa — ANOMALÍA (sombreado y contornos)</text>
<text x="869.2" y="86.5" xml:space="preserve">Inicialización: 20260202 06Z   •   Pronóstico: f000 (UTC)</text>
<text x="870.1" y="121.5" xml:space="preserve">Instituto Meteorológico Nacional</text>
</g>
<g shape-rendering="crispEdges">
<rect x="1675" y="1287.6" width="60" height="60.2" fill="#5e4fa2"/>
<rect x="1675" y="1228.1" width="60" height="60.2" fill="#486cb0"/>
<rect x="1675" y="1168.5" width="60" height="60.2" fill="#3389bd"/>
<rect x="1675" y="1109" width="60" height="60.2" fill="#50a9af"/>
<rect x="1675" y="1049.4" width="60" height="60.2" fill="#6bc4a5"/>
<rect x="1675" y="989.8" width="60" height="60.2" fill="#91d3a4"/>
<rect x="1675" y="930.3" width="60" height="60.2" fill="#b3e0a2"/>
<rect x="1675" y="870.7" width="60" height="60.2" fill="#d1ed9c"/>
<rect x="1675" y="811.2" width="60" height="60.2" fill="#ebf7a0"/>
<rect x="1675" y="751.6" width="60" height="60.2" fill="#f8fcb4"/>
<rect x="1675" y="692" width="60" height="60.2" fill="#fff7b2"/>
<rect x="1675" y="632.5" width="60" height="60.2" fill="#fee797"/>
<rect x="1675" y="572.9" width="60" height="60.2" fill="#fed07e"/>
<rect x="1675" y="513.4" width="60" height="60.2" fill="#fdb768"/>
<rect x="1675" y="453.8" width="60" height="60.2" fill="#fa9857"/>
<rect x="1675" y="394.2" width="60" height="60.2" fill="#f57547"/>
<rect x="1675" y="334.7" width="60" height="60.2" fill="#e85b48"/>
<rect x="1675" y="275.1" width="60" height="60.2" fill="#d7414e"/>
<rect x="1675" y="215.6" width="60" height="60.2" fill="#bc2249"/>
<rect x="1675" y="156" width="60" height="60.2" fill="#9e0142"/>
</g>
<rect x="1675" y="156" width="60" height="1191.2" fill="none" stroke="#000" stroke-width="2"/>
<g stroke="#000" stroke-width="2">
<path d="M1735 1347.2h8.75"/>
<path d="M1735 1287.6h8.75"/>
<path d="M1735 1228.1h8.75"/>
<path d="M1735 1168.5h8.75"/>
<path d="M1735 1109h8.75"/>
<path d="M1735 1049.4h8.75"/>
<path d="M1735 989.8h8.75"/>
<path d="M1735 930.3h8.75"/>
<path d="M1735 870.7h8.75"/>
<path d="M1735 811.2h8.75"/>
<path d="M1735 751.6h8.75"/>
<path d="M1735 692h8.75"/>
<path d="M1735 632.5h8.75"/>
<path d="M1735 572.9h8.75"/>
<path d="M1735 513.4h8.75"/>
<path d="M1735 453.8h8.75"/>
<path d="M1735 394.2h8.75"/>
<path d="M1735 334.7h8.75"/>
<path d="M1735 275.1h8.75"/>
<path d="M1735 215.6h8.75"/>
<path d="M1735 156h8.75"/>
</g>
<g font-size="25px">
<text x="1753.4" y="1356.7">−24</text>
<text x="1753.4" y="1297.1">−22</text>
<text x="1753.4" y="1237.6">−20</text>
<text x="1753.4" y="1178">−18</text>
<text x="1753.4" y="1118.5">−16</text>
<text x="1753.4" y="1058.9">−14</text>
<text x="1753.4" y="999.3">−12</text>
<text x="1753.4" y="939.8">−10</text>
<text x="1753.4" y="880.2">−8</text>
<text x="1753.4" y="820.7">−6</text>
<text x="1753.4" y="761.1">−4</text>
<text x="1753.4" y="701.5">−2</text>
<text x="1753.4" y="642">0</text>
<text x="1753.4" y="582.4">2</text>
<text x="1753.4" y="522.9">4</text>
<text x="1753.4" y="463.3">6</text>
<text x="1753.4" y="403.7">8</text>
<text x="1753.4" y="344.2">10</text>
<text x="1753.4" y="284.6">12</text>
<text x="1753.4" y="225.1">14</text>
<text x="1753.4" y="165.5">16</text>
</g>
<text font-size="25px" text-anchor="middle" transform="translate(1834.5 751.5) rotate(-90)">Anomalía de θe de saturación media 1000–700 hPa [°C]</text>
</svg></body></html>
